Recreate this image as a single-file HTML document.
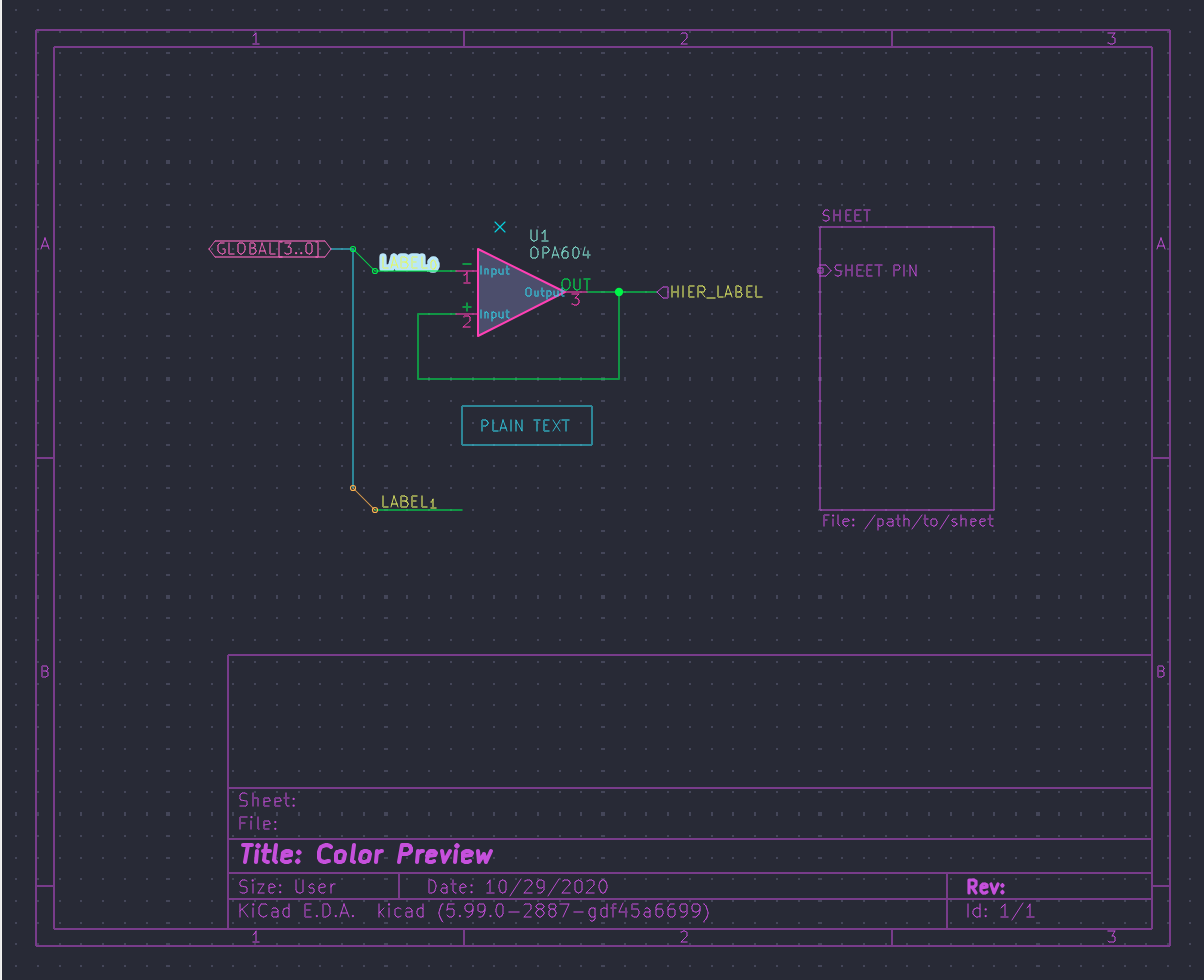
<!DOCTYPE html>
<html><head><meta charset="utf-8"><title>Color Preview</title>
<style>
html,body{margin:0;padding:0;background:#282a36;overflow:hidden;font-family:"Liberation Sans",sans-serif;}
svg{display:block;position:absolute;left:0;top:0}
svg path{stroke-linecap:round;stroke-linejoin:round}
</style></head><body>
<svg width="1204" height="980" viewBox="0 0 1204 980">
<rect x="0" y="0" width="1204" height="980" fill="#282a36"/>
<rect x="0" y="0" width="1" height="980" fill="#ececec"/>
<rect x="1" y="0" width="1" height="980" fill="#f2f2f0"/>
<path d="M15 9h2v2h-2zM37 9h2v2h-2zM59 9h2v2h-2zM80 9h2v2h-2zM102 9h2v2h-2zM124 9h2v2h-2zM146 9h2v2h-2zM166 9h4v2h-4zM189 9h2v2h-2zM211 9h2v2h-2zM232 9h2v2h-2zM254 9h2v2h-2zM276 9h2v2h-2zM298 9h2v2h-2zM319 9h2v2h-2zM341 9h2v2h-2zM363 9h2v2h-2zM384 9h4v2h-4zM406 9h2v2h-2zM428 9h2v2h-2zM450 9h2v2h-2zM472 9h2v2h-2zM493 9h2v2h-2zM515 9h2v2h-2zM537 9h2v2h-2zM559 9h2v2h-2zM580 9h2v2h-2zM601 9h4v2h-4zM624 9h2v2h-2zM645 9h2v2h-2zM667 9h2v2h-2zM689 9h2v2h-2zM711 9h2v2h-2zM732 9h2v2h-2zM754 9h2v2h-2zM776 9h2v2h-2zM798 9h2v2h-2zM818 9h4v2h-4zM841 9h2v2h-2zM863 9h2v2h-2zM885 9h2v2h-2zM906 9h2v2h-2zM928 9h2v2h-2zM950 9h2v2h-2zM972 9h2v2h-2zM993 9h2v2h-2zM1015 9h2v2h-2zM1036 9h4v2h-4zM1058 9h2v2h-2zM1080 9h2v2h-2zM1102 9h2v2h-2zM1124 9h2v2h-2zM1145 9h2v2h-2zM1167 9h2v2h-2zM1189 9h2v2h-2zM15 31h2v2h-2zM37 31h2v2h-2zM59 31h2v2h-2zM80 31h2v2h-2zM102 31h2v2h-2zM124 31h2v2h-2zM146 31h2v2h-2zM166 31h4v2h-4zM189 31h2v2h-2zM211 31h2v2h-2zM232 31h2v2h-2zM254 31h2v2h-2zM276 31h2v2h-2zM298 31h2v2h-2zM319 31h2v2h-2zM341 31h2v2h-2zM363 31h2v2h-2zM384 31h4v2h-4zM406 31h2v2h-2zM428 31h2v2h-2zM450 31h2v2h-2zM472 31h2v2h-2zM493 31h2v2h-2zM515 31h2v2h-2zM537 31h2v2h-2zM559 31h2v2h-2zM580 31h2v2h-2zM601 31h4v2h-4zM624 31h2v2h-2zM645 31h2v2h-2zM667 31h2v2h-2zM689 31h2v2h-2zM711 31h2v2h-2zM732 31h2v2h-2zM754 31h2v2h-2zM776 31h2v2h-2zM798 31h2v2h-2zM818 31h4v2h-4zM841 31h2v2h-2zM863 31h2v2h-2zM885 31h2v2h-2zM906 31h2v2h-2zM928 31h2v2h-2zM950 31h2v2h-2zM972 31h2v2h-2zM993 31h2v2h-2zM1015 31h2v2h-2zM1036 31h4v2h-4zM1058 31h2v2h-2zM1080 31h2v2h-2zM1102 31h2v2h-2zM1124 31h2v2h-2zM1145 31h2v2h-2zM1167 31h2v2h-2zM1189 31h2v2h-2zM15 52h2v2h-2zM37 52h2v2h-2zM59 52h2v2h-2zM80 52h2v2h-2zM102 52h2v2h-2zM124 52h2v2h-2zM146 52h2v2h-2zM166 52h4v2h-4zM189 52h2v2h-2zM211 52h2v2h-2zM232 52h2v2h-2zM254 52h2v2h-2zM276 52h2v2h-2zM298 52h2v2h-2zM319 52h2v2h-2zM341 52h2v2h-2zM363 52h2v2h-2zM384 52h4v2h-4zM406 52h2v2h-2zM428 52h2v2h-2zM450 52h2v2h-2zM472 52h2v2h-2zM493 52h2v2h-2zM515 52h2v2h-2zM537 52h2v2h-2zM559 52h2v2h-2zM580 52h2v2h-2zM601 52h4v2h-4zM624 52h2v2h-2zM645 52h2v2h-2zM667 52h2v2h-2zM689 52h2v2h-2zM711 52h2v2h-2zM732 52h2v2h-2zM754 52h2v2h-2zM776 52h2v2h-2zM798 52h2v2h-2zM818 52h4v2h-4zM841 52h2v2h-2zM863 52h2v2h-2zM885 52h2v2h-2zM906 52h2v2h-2zM928 52h2v2h-2zM950 52h2v2h-2zM972 52h2v2h-2zM993 52h2v2h-2zM1015 52h2v2h-2zM1036 52h4v2h-4zM1058 52h2v2h-2zM1080 52h2v2h-2zM1102 52h2v2h-2zM1124 52h2v2h-2zM1145 52h2v2h-2zM1167 52h2v2h-2zM1189 52h2v2h-2zM15 74h2v2h-2zM37 74h2v2h-2zM59 74h2v2h-2zM80 74h2v2h-2zM102 74h2v2h-2zM124 74h2v2h-2zM146 74h2v2h-2zM166 74h4v2h-4zM189 74h2v2h-2zM211 74h2v2h-2zM232 74h2v2h-2zM254 74h2v2h-2zM276 74h2v2h-2zM298 74h2v2h-2zM319 74h2v2h-2zM341 74h2v2h-2zM363 74h2v2h-2zM384 74h4v2h-4zM406 74h2v2h-2zM428 74h2v2h-2zM450 74h2v2h-2zM472 74h2v2h-2zM493 74h2v2h-2zM515 74h2v2h-2zM537 74h2v2h-2zM559 74h2v2h-2zM580 74h2v2h-2zM601 74h4v2h-4zM624 74h2v2h-2zM645 74h2v2h-2zM667 74h2v2h-2zM689 74h2v2h-2zM711 74h2v2h-2zM732 74h2v2h-2zM754 74h2v2h-2zM776 74h2v2h-2zM798 74h2v2h-2zM818 74h4v2h-4zM841 74h2v2h-2zM863 74h2v2h-2zM885 74h2v2h-2zM906 74h2v2h-2zM928 74h2v2h-2zM950 74h2v2h-2zM972 74h2v2h-2zM993 74h2v2h-2zM1015 74h2v2h-2zM1036 74h4v2h-4zM1058 74h2v2h-2zM1080 74h2v2h-2zM1102 74h2v2h-2zM1124 74h2v2h-2zM1145 74h2v2h-2zM1167 74h2v2h-2zM1189 74h2v2h-2zM15 96h2v2h-2zM37 96h2v2h-2zM59 96h2v2h-2zM80 96h2v2h-2zM102 96h2v2h-2zM124 96h2v2h-2zM146 96h2v2h-2zM166 96h4v2h-4zM189 96h2v2h-2zM211 96h2v2h-2zM232 96h2v2h-2zM254 96h2v2h-2zM276 96h2v2h-2zM298 96h2v2h-2zM319 96h2v2h-2zM341 96h2v2h-2zM363 96h2v2h-2zM384 96h4v2h-4zM406 96h2v2h-2zM428 96h2v2h-2zM450 96h2v2h-2zM472 96h2v2h-2zM493 96h2v2h-2zM515 96h2v2h-2zM537 96h2v2h-2zM559 96h2v2h-2zM580 96h2v2h-2zM601 96h4v2h-4zM624 96h2v2h-2zM645 96h2v2h-2zM667 96h2v2h-2zM689 96h2v2h-2zM711 96h2v2h-2zM732 96h2v2h-2zM754 96h2v2h-2zM776 96h2v2h-2zM798 96h2v2h-2zM818 96h4v2h-4zM841 96h2v2h-2zM863 96h2v2h-2zM885 96h2v2h-2zM906 96h2v2h-2zM928 96h2v2h-2zM950 96h2v2h-2zM972 96h2v2h-2zM993 96h2v2h-2zM1015 96h2v2h-2zM1036 96h4v2h-4zM1058 96h2v2h-2zM1080 96h2v2h-2zM1102 96h2v2h-2zM1124 96h2v2h-2zM1145 96h2v2h-2zM1167 96h2v2h-2zM1189 96h2v2h-2zM15 117h2v2h-2zM37 117h2v2h-2zM59 117h2v2h-2zM80 117h2v2h-2zM102 117h2v2h-2zM124 117h2v2h-2zM146 117h2v2h-2zM166 117h4v2h-4zM189 117h2v2h-2zM211 117h2v2h-2zM232 117h2v2h-2zM254 117h2v2h-2zM276 117h2v2h-2zM298 117h2v2h-2zM319 117h2v2h-2zM341 117h2v2h-2zM363 117h2v2h-2zM384 117h4v2h-4zM406 117h2v2h-2zM428 117h2v2h-2zM450 117h2v2h-2zM472 117h2v2h-2zM493 117h2v2h-2zM515 117h2v2h-2zM537 117h2v2h-2zM559 117h2v2h-2zM580 117h2v2h-2zM601 117h4v2h-4zM624 117h2v2h-2zM645 117h2v2h-2zM667 117h2v2h-2zM689 117h2v2h-2zM711 117h2v2h-2zM732 117h2v2h-2zM754 117h2v2h-2zM776 117h2v2h-2zM798 117h2v2h-2zM818 117h4v2h-4zM841 117h2v2h-2zM863 117h2v2h-2zM885 117h2v2h-2zM906 117h2v2h-2zM928 117h2v2h-2zM950 117h2v2h-2zM972 117h2v2h-2zM993 117h2v2h-2zM1015 117h2v2h-2zM1036 117h4v2h-4zM1058 117h2v2h-2zM1080 117h2v2h-2zM1102 117h2v2h-2zM1124 117h2v2h-2zM1145 117h2v2h-2zM1167 117h2v2h-2zM1189 117h2v2h-2zM15 139h2v2h-2zM37 139h2v2h-2zM59 139h2v2h-2zM80 139h2v2h-2zM102 139h2v2h-2zM124 139h2v2h-2zM146 139h2v2h-2zM166 139h4v2h-4zM189 139h2v2h-2zM211 139h2v2h-2zM232 139h2v2h-2zM254 139h2v2h-2zM276 139h2v2h-2zM298 139h2v2h-2zM319 139h2v2h-2zM341 139h2v2h-2zM363 139h2v2h-2zM384 139h4v2h-4zM406 139h2v2h-2zM428 139h2v2h-2zM450 139h2v2h-2zM472 139h2v2h-2zM493 139h2v2h-2zM515 139h2v2h-2zM537 139h2v2h-2zM559 139h2v2h-2zM580 139h2v2h-2zM601 139h4v2h-4zM624 139h2v2h-2zM645 139h2v2h-2zM667 139h2v2h-2zM689 139h2v2h-2zM711 139h2v2h-2zM732 139h2v2h-2zM754 139h2v2h-2zM776 139h2v2h-2zM798 139h2v2h-2zM818 139h4v2h-4zM841 139h2v2h-2zM863 139h2v2h-2zM885 139h2v2h-2zM906 139h2v2h-2zM928 139h2v2h-2zM950 139h2v2h-2zM972 139h2v2h-2zM993 139h2v2h-2zM1015 139h2v2h-2zM1036 139h4v2h-4zM1058 139h2v2h-2zM1080 139h2v2h-2zM1102 139h2v2h-2zM1124 139h2v2h-2zM1145 139h2v2h-2zM1167 139h2v2h-2zM1189 139h2v2h-2zM15 160h2v4h-2zM37 160h2v4h-2zM59 160h2v4h-2zM80 160h2v4h-2zM102 160h2v4h-2zM124 160h2v4h-2zM146 160h2v4h-2zM166 160h4v4h-4zM189 160h2v4h-2zM211 160h2v4h-2zM232 160h2v4h-2zM254 160h2v4h-2zM276 160h2v4h-2zM298 160h2v4h-2zM319 160h2v4h-2zM341 160h2v4h-2zM363 160h2v4h-2zM384 160h4v4h-4zM406 160h2v4h-2zM428 160h2v4h-2zM450 160h2v4h-2zM472 160h2v4h-2zM493 160h2v4h-2zM515 160h2v4h-2zM537 160h2v4h-2zM559 160h2v4h-2zM580 160h2v4h-2zM601 160h4v4h-4zM624 160h2v4h-2zM645 160h2v4h-2zM667 160h2v4h-2zM689 160h2v4h-2zM711 160h2v4h-2zM732 160h2v4h-2zM754 160h2v4h-2zM776 160h2v4h-2zM798 160h2v4h-2zM818 160h4v4h-4zM841 160h2v4h-2zM863 160h2v4h-2zM885 160h2v4h-2zM906 160h2v4h-2zM928 160h2v4h-2zM950 160h2v4h-2zM972 160h2v4h-2zM993 160h2v4h-2zM1015 160h2v4h-2zM1036 160h4v4h-4zM1058 160h2v4h-2zM1080 160h2v4h-2zM1102 160h2v4h-2zM1124 160h2v4h-2zM1145 160h2v4h-2zM1167 160h2v4h-2zM1189 160h2v4h-2zM15 183h2v2h-2zM37 183h2v2h-2zM59 183h2v2h-2zM80 183h2v2h-2zM102 183h2v2h-2zM124 183h2v2h-2zM146 183h2v2h-2zM166 183h4v2h-4zM189 183h2v2h-2zM211 183h2v2h-2zM232 183h2v2h-2zM254 183h2v2h-2zM276 183h2v2h-2zM298 183h2v2h-2zM319 183h2v2h-2zM341 183h2v2h-2zM363 183h2v2h-2zM384 183h4v2h-4zM406 183h2v2h-2zM428 183h2v2h-2zM450 183h2v2h-2zM472 183h2v2h-2zM493 183h2v2h-2zM515 183h2v2h-2zM537 183h2v2h-2zM559 183h2v2h-2zM580 183h2v2h-2zM601 183h4v2h-4zM624 183h2v2h-2zM645 183h2v2h-2zM667 183h2v2h-2zM689 183h2v2h-2zM711 183h2v2h-2zM732 183h2v2h-2zM754 183h2v2h-2zM776 183h2v2h-2zM798 183h2v2h-2zM818 183h4v2h-4zM841 183h2v2h-2zM863 183h2v2h-2zM885 183h2v2h-2zM906 183h2v2h-2zM928 183h2v2h-2zM950 183h2v2h-2zM972 183h2v2h-2zM993 183h2v2h-2zM1015 183h2v2h-2zM1036 183h4v2h-4zM1058 183h2v2h-2zM1080 183h2v2h-2zM1102 183h2v2h-2zM1124 183h2v2h-2zM1145 183h2v2h-2zM1167 183h2v2h-2zM1189 183h2v2h-2zM15 204h2v2h-2zM37 204h2v2h-2zM59 204h2v2h-2zM80 204h2v2h-2zM102 204h2v2h-2zM124 204h2v2h-2zM146 204h2v2h-2zM166 204h4v2h-4zM189 204h2v2h-2zM211 204h2v2h-2zM232 204h2v2h-2zM254 204h2v2h-2zM276 204h2v2h-2zM298 204h2v2h-2zM319 204h2v2h-2zM341 204h2v2h-2zM363 204h2v2h-2zM384 204h4v2h-4zM406 204h2v2h-2zM428 204h2v2h-2zM450 204h2v2h-2zM472 204h2v2h-2zM493 204h2v2h-2zM515 204h2v2h-2zM537 204h2v2h-2zM559 204h2v2h-2zM580 204h2v2h-2zM601 204h4v2h-4zM624 204h2v2h-2zM645 204h2v2h-2zM667 204h2v2h-2zM689 204h2v2h-2zM711 204h2v2h-2zM732 204h2v2h-2zM754 204h2v2h-2zM776 204h2v2h-2zM798 204h2v2h-2zM818 204h4v2h-4zM841 204h2v2h-2zM863 204h2v2h-2zM885 204h2v2h-2zM906 204h2v2h-2zM928 204h2v2h-2zM950 204h2v2h-2zM972 204h2v2h-2zM993 204h2v2h-2zM1015 204h2v2h-2zM1036 204h4v2h-4zM1058 204h2v2h-2zM1080 204h2v2h-2zM1102 204h2v2h-2zM1124 204h2v2h-2zM1145 204h2v2h-2zM1167 204h2v2h-2zM1189 204h2v2h-2zM15 226h2v2h-2zM37 226h2v2h-2zM59 226h2v2h-2zM80 226h2v2h-2zM102 226h2v2h-2zM124 226h2v2h-2zM146 226h2v2h-2zM166 226h4v2h-4zM189 226h2v2h-2zM211 226h2v2h-2zM232 226h2v2h-2zM254 226h2v2h-2zM276 226h2v2h-2zM298 226h2v2h-2zM319 226h2v2h-2zM341 226h2v2h-2zM363 226h2v2h-2zM384 226h4v2h-4zM406 226h2v2h-2zM428 226h2v2h-2zM450 226h2v2h-2zM472 226h2v2h-2zM493 226h2v2h-2zM515 226h2v2h-2zM537 226h2v2h-2zM559 226h2v2h-2zM580 226h2v2h-2zM601 226h4v2h-4zM624 226h2v2h-2zM645 226h2v2h-2zM667 226h2v2h-2zM689 226h2v2h-2zM711 226h2v2h-2zM732 226h2v2h-2zM754 226h2v2h-2zM776 226h2v2h-2zM798 226h2v2h-2zM818 226h4v2h-4zM841 226h2v2h-2zM863 226h2v2h-2zM885 226h2v2h-2zM906 226h2v2h-2zM928 226h2v2h-2zM950 226h2v2h-2zM972 226h2v2h-2zM993 226h2v2h-2zM1015 226h2v2h-2zM1036 226h4v2h-4zM1058 226h2v2h-2zM1080 226h2v2h-2zM1102 226h2v2h-2zM1124 226h2v2h-2zM1145 226h2v2h-2zM1167 226h2v2h-2zM1189 226h2v2h-2zM15 248h2v2h-2zM37 248h2v2h-2zM59 248h2v2h-2zM80 248h2v2h-2zM102 248h2v2h-2zM124 248h2v2h-2zM146 248h2v2h-2zM166 248h4v2h-4zM189 248h2v2h-2zM211 248h2v2h-2zM232 248h2v2h-2zM254 248h2v2h-2zM276 248h2v2h-2zM298 248h2v2h-2zM319 248h2v2h-2zM341 248h2v2h-2zM363 248h2v2h-2zM384 248h4v2h-4zM406 248h2v2h-2zM428 248h2v2h-2zM450 248h2v2h-2zM472 248h2v2h-2zM493 248h2v2h-2zM515 248h2v2h-2zM537 248h2v2h-2zM559 248h2v2h-2zM580 248h2v2h-2zM601 248h4v2h-4zM624 248h2v2h-2zM645 248h2v2h-2zM667 248h2v2h-2zM689 248h2v2h-2zM711 248h2v2h-2zM732 248h2v2h-2zM754 248h2v2h-2zM776 248h2v2h-2zM798 248h2v2h-2zM818 248h4v2h-4zM841 248h2v2h-2zM863 248h2v2h-2zM885 248h2v2h-2zM906 248h2v2h-2zM928 248h2v2h-2zM950 248h2v2h-2zM972 248h2v2h-2zM993 248h2v2h-2zM1015 248h2v2h-2zM1036 248h4v2h-4zM1058 248h2v2h-2zM1080 248h2v2h-2zM1102 248h2v2h-2zM1124 248h2v2h-2zM1145 248h2v2h-2zM1167 248h2v2h-2zM1189 248h2v2h-2zM15 270h2v2h-2zM37 270h2v2h-2zM59 270h2v2h-2zM80 270h2v2h-2zM102 270h2v2h-2zM124 270h2v2h-2zM146 270h2v2h-2zM166 270h4v2h-4zM189 270h2v2h-2zM211 270h2v2h-2zM232 270h2v2h-2zM254 270h2v2h-2zM276 270h2v2h-2zM298 270h2v2h-2zM319 270h2v2h-2zM341 270h2v2h-2zM363 270h2v2h-2zM384 270h4v2h-4zM406 270h2v2h-2zM428 270h2v2h-2zM450 270h2v2h-2zM472 270h2v2h-2zM493 270h2v2h-2zM515 270h2v2h-2zM537 270h2v2h-2zM559 270h2v2h-2zM580 270h2v2h-2zM601 270h4v2h-4zM624 270h2v2h-2zM645 270h2v2h-2zM667 270h2v2h-2zM689 270h2v2h-2zM711 270h2v2h-2zM732 270h2v2h-2zM754 270h2v2h-2zM776 270h2v2h-2zM798 270h2v2h-2zM818 270h4v2h-4zM841 270h2v2h-2zM863 270h2v2h-2zM885 270h2v2h-2zM906 270h2v2h-2zM928 270h2v2h-2zM950 270h2v2h-2zM972 270h2v2h-2zM993 270h2v2h-2zM1015 270h2v2h-2zM1036 270h4v2h-4zM1058 270h2v2h-2zM1080 270h2v2h-2zM1102 270h2v2h-2zM1124 270h2v2h-2zM1145 270h2v2h-2zM1167 270h2v2h-2zM1189 270h2v2h-2zM15 291h2v2h-2zM37 291h2v2h-2zM59 291h2v2h-2zM80 291h2v2h-2zM102 291h2v2h-2zM124 291h2v2h-2zM146 291h2v2h-2zM166 291h4v2h-4zM189 291h2v2h-2zM211 291h2v2h-2zM232 291h2v2h-2zM254 291h2v2h-2zM276 291h2v2h-2zM298 291h2v2h-2zM319 291h2v2h-2zM341 291h2v2h-2zM363 291h2v2h-2zM384 291h4v2h-4zM406 291h2v2h-2zM428 291h2v2h-2zM450 291h2v2h-2zM472 291h2v2h-2zM493 291h2v2h-2zM515 291h2v2h-2zM537 291h2v2h-2zM559 291h2v2h-2zM580 291h2v2h-2zM601 291h4v2h-4zM624 291h2v2h-2zM645 291h2v2h-2zM667 291h2v2h-2zM689 291h2v2h-2zM711 291h2v2h-2zM732 291h2v2h-2zM754 291h2v2h-2zM776 291h2v2h-2zM798 291h2v2h-2zM818 291h4v2h-4zM841 291h2v2h-2zM863 291h2v2h-2zM885 291h2v2h-2zM906 291h2v2h-2zM928 291h2v2h-2zM950 291h2v2h-2zM972 291h2v2h-2zM993 291h2v2h-2zM1015 291h2v2h-2zM1036 291h4v2h-4zM1058 291h2v2h-2zM1080 291h2v2h-2zM1102 291h2v2h-2zM1124 291h2v2h-2zM1145 291h2v2h-2zM1167 291h2v2h-2zM1189 291h2v2h-2zM15 313h2v2h-2zM37 313h2v2h-2zM59 313h2v2h-2zM80 313h2v2h-2zM102 313h2v2h-2zM124 313h2v2h-2zM146 313h2v2h-2zM166 313h4v2h-4zM189 313h2v2h-2zM211 313h2v2h-2zM232 313h2v2h-2zM254 313h2v2h-2zM276 313h2v2h-2zM298 313h2v2h-2zM319 313h2v2h-2zM341 313h2v2h-2zM363 313h2v2h-2zM384 313h4v2h-4zM406 313h2v2h-2zM428 313h2v2h-2zM450 313h2v2h-2zM472 313h2v2h-2zM493 313h2v2h-2zM515 313h2v2h-2zM537 313h2v2h-2zM559 313h2v2h-2zM580 313h2v2h-2zM601 313h4v2h-4zM624 313h2v2h-2zM645 313h2v2h-2zM667 313h2v2h-2zM689 313h2v2h-2zM711 313h2v2h-2zM732 313h2v2h-2zM754 313h2v2h-2zM776 313h2v2h-2zM798 313h2v2h-2zM818 313h4v2h-4zM841 313h2v2h-2zM863 313h2v2h-2zM885 313h2v2h-2zM906 313h2v2h-2zM928 313h2v2h-2zM950 313h2v2h-2zM972 313h2v2h-2zM993 313h2v2h-2zM1015 313h2v2h-2zM1036 313h4v2h-4zM1058 313h2v2h-2zM1080 313h2v2h-2zM1102 313h2v2h-2zM1124 313h2v2h-2zM1145 313h2v2h-2zM1167 313h2v2h-2zM1189 313h2v2h-2zM15 335h2v2h-2zM37 335h2v2h-2zM59 335h2v2h-2zM80 335h2v2h-2zM102 335h2v2h-2zM124 335h2v2h-2zM146 335h2v2h-2zM166 335h4v2h-4zM189 335h2v2h-2zM211 335h2v2h-2zM232 335h2v2h-2zM254 335h2v2h-2zM276 335h2v2h-2zM298 335h2v2h-2zM319 335h2v2h-2zM341 335h2v2h-2zM363 335h2v2h-2zM384 335h4v2h-4zM406 335h2v2h-2zM428 335h2v2h-2zM450 335h2v2h-2zM472 335h2v2h-2zM493 335h2v2h-2zM515 335h2v2h-2zM537 335h2v2h-2zM559 335h2v2h-2zM580 335h2v2h-2zM601 335h4v2h-4zM624 335h2v2h-2zM645 335h2v2h-2zM667 335h2v2h-2zM689 335h2v2h-2zM711 335h2v2h-2zM732 335h2v2h-2zM754 335h2v2h-2zM776 335h2v2h-2zM798 335h2v2h-2zM818 335h4v2h-4zM841 335h2v2h-2zM863 335h2v2h-2zM885 335h2v2h-2zM906 335h2v2h-2zM928 335h2v2h-2zM950 335h2v2h-2zM972 335h2v2h-2zM993 335h2v2h-2zM1015 335h2v2h-2zM1036 335h4v2h-4zM1058 335h2v2h-2zM1080 335h2v2h-2zM1102 335h2v2h-2zM1124 335h2v2h-2zM1145 335h2v2h-2zM1167 335h2v2h-2zM1189 335h2v2h-2zM15 357h2v2h-2zM37 357h2v2h-2zM59 357h2v2h-2zM80 357h2v2h-2zM102 357h2v2h-2zM124 357h2v2h-2zM146 357h2v2h-2zM166 357h4v2h-4zM189 357h2v2h-2zM211 357h2v2h-2zM232 357h2v2h-2zM254 357h2v2h-2zM276 357h2v2h-2zM298 357h2v2h-2zM319 357h2v2h-2zM341 357h2v2h-2zM363 357h2v2h-2zM384 357h4v2h-4zM406 357h2v2h-2zM428 357h2v2h-2zM450 357h2v2h-2zM472 357h2v2h-2zM493 357h2v2h-2zM515 357h2v2h-2zM537 357h2v2h-2zM559 357h2v2h-2zM580 357h2v2h-2zM601 357h4v2h-4zM624 357h2v2h-2zM645 357h2v2h-2zM667 357h2v2h-2zM689 357h2v2h-2zM711 357h2v2h-2zM732 357h2v2h-2zM754 357h2v2h-2zM776 357h2v2h-2zM798 357h2v2h-2zM818 357h4v2h-4zM841 357h2v2h-2zM863 357h2v2h-2zM885 357h2v2h-2zM906 357h2v2h-2zM928 357h2v2h-2zM950 357h2v2h-2zM972 357h2v2h-2zM993 357h2v2h-2zM1015 357h2v2h-2zM1036 357h4v2h-4zM1058 357h2v2h-2zM1080 357h2v2h-2zM1102 357h2v2h-2zM1124 357h2v2h-2zM1145 357h2v2h-2zM1167 357h2v2h-2zM1189 357h2v2h-2zM15 377h2v4h-2zM37 377h2v4h-2zM59 377h2v4h-2zM80 377h2v4h-2zM102 377h2v4h-2zM124 377h2v4h-2zM146 377h2v4h-2zM166 377h4v4h-4zM189 377h2v4h-2zM211 377h2v4h-2zM232 377h2v4h-2zM254 377h2v4h-2zM276 377h2v4h-2zM298 377h2v4h-2zM319 377h2v4h-2zM341 377h2v4h-2zM363 377h2v4h-2zM384 377h4v4h-4zM406 377h2v4h-2zM428 377h2v4h-2zM450 377h2v4h-2zM472 377h2v4h-2zM493 377h2v4h-2zM515 377h2v4h-2zM537 377h2v4h-2zM559 377h2v4h-2zM580 377h2v4h-2zM601 377h4v4h-4zM624 377h2v4h-2zM645 377h2v4h-2zM667 377h2v4h-2zM689 377h2v4h-2zM711 377h2v4h-2zM732 377h2v4h-2zM754 377h2v4h-2zM776 377h2v4h-2zM798 377h2v4h-2zM818 377h4v4h-4zM841 377h2v4h-2zM863 377h2v4h-2zM885 377h2v4h-2zM906 377h2v4h-2zM928 377h2v4h-2zM950 377h2v4h-2zM972 377h2v4h-2zM993 377h2v4h-2zM1015 377h2v4h-2zM1036 377h4v4h-4zM1058 377h2v4h-2zM1080 377h2v4h-2zM1102 377h2v4h-2zM1124 377h2v4h-2zM1145 377h2v4h-2zM1167 377h2v4h-2zM1189 377h2v4h-2zM15 400h2v2h-2zM37 400h2v2h-2zM59 400h2v2h-2zM80 400h2v2h-2zM102 400h2v2h-2zM124 400h2v2h-2zM146 400h2v2h-2zM166 400h4v2h-4zM189 400h2v2h-2zM211 400h2v2h-2zM232 400h2v2h-2zM254 400h2v2h-2zM276 400h2v2h-2zM298 400h2v2h-2zM319 400h2v2h-2zM341 400h2v2h-2zM363 400h2v2h-2zM384 400h4v2h-4zM406 400h2v2h-2zM428 400h2v2h-2zM450 400h2v2h-2zM472 400h2v2h-2zM493 400h2v2h-2zM515 400h2v2h-2zM537 400h2v2h-2zM559 400h2v2h-2zM580 400h2v2h-2zM601 400h4v2h-4zM624 400h2v2h-2zM645 400h2v2h-2zM667 400h2v2h-2zM689 400h2v2h-2zM711 400h2v2h-2zM732 400h2v2h-2zM754 400h2v2h-2zM776 400h2v2h-2zM798 400h2v2h-2zM818 400h4v2h-4zM841 400h2v2h-2zM863 400h2v2h-2zM885 400h2v2h-2zM906 400h2v2h-2zM928 400h2v2h-2zM950 400h2v2h-2zM972 400h2v2h-2zM993 400h2v2h-2zM1015 400h2v2h-2zM1036 400h4v2h-4zM1058 400h2v2h-2zM1080 400h2v2h-2zM1102 400h2v2h-2zM1124 400h2v2h-2zM1145 400h2v2h-2zM1167 400h2v2h-2zM1189 400h2v2h-2zM15 422h2v2h-2zM37 422h2v2h-2zM59 422h2v2h-2zM80 422h2v2h-2zM102 422h2v2h-2zM124 422h2v2h-2zM146 422h2v2h-2zM166 422h4v2h-4zM189 422h2v2h-2zM211 422h2v2h-2zM232 422h2v2h-2zM254 422h2v2h-2zM276 422h2v2h-2zM298 422h2v2h-2zM319 422h2v2h-2zM341 422h2v2h-2zM363 422h2v2h-2zM384 422h4v2h-4zM406 422h2v2h-2zM428 422h2v2h-2zM450 422h2v2h-2zM472 422h2v2h-2zM493 422h2v2h-2zM515 422h2v2h-2zM537 422h2v2h-2zM559 422h2v2h-2zM580 422h2v2h-2zM601 422h4v2h-4zM624 422h2v2h-2zM645 422h2v2h-2zM667 422h2v2h-2zM689 422h2v2h-2zM711 422h2v2h-2zM732 422h2v2h-2zM754 422h2v2h-2zM776 422h2v2h-2zM798 422h2v2h-2zM818 422h4v2h-4zM841 422h2v2h-2zM863 422h2v2h-2zM885 422h2v2h-2zM906 422h2v2h-2zM928 422h2v2h-2zM950 422h2v2h-2zM972 422h2v2h-2zM993 422h2v2h-2zM1015 422h2v2h-2zM1036 422h4v2h-4zM1058 422h2v2h-2zM1080 422h2v2h-2zM1102 422h2v2h-2zM1124 422h2v2h-2zM1145 422h2v2h-2zM1167 422h2v2h-2zM1189 422h2v2h-2zM15 444h2v2h-2zM37 444h2v2h-2zM59 444h2v2h-2zM80 444h2v2h-2zM102 444h2v2h-2zM124 444h2v2h-2zM146 444h2v2h-2zM166 444h4v2h-4zM189 444h2v2h-2zM211 444h2v2h-2zM232 444h2v2h-2zM254 444h2v2h-2zM276 444h2v2h-2zM298 444h2v2h-2zM319 444h2v2h-2zM341 444h2v2h-2zM363 444h2v2h-2zM384 444h4v2h-4zM406 444h2v2h-2zM428 444h2v2h-2zM450 444h2v2h-2zM472 444h2v2h-2zM493 444h2v2h-2zM515 444h2v2h-2zM537 444h2v2h-2zM559 444h2v2h-2zM580 444h2v2h-2zM601 444h4v2h-4zM624 444h2v2h-2zM645 444h2v2h-2zM667 444h2v2h-2zM689 444h2v2h-2zM711 444h2v2h-2zM732 444h2v2h-2zM754 444h2v2h-2zM776 444h2v2h-2zM798 444h2v2h-2zM818 444h4v2h-4zM841 444h2v2h-2zM863 444h2v2h-2zM885 444h2v2h-2zM906 444h2v2h-2zM928 444h2v2h-2zM950 444h2v2h-2zM972 444h2v2h-2zM993 444h2v2h-2zM1015 444h2v2h-2zM1036 444h4v2h-4zM1058 444h2v2h-2zM1080 444h2v2h-2zM1102 444h2v2h-2zM1124 444h2v2h-2zM1145 444h2v2h-2zM1167 444h2v2h-2zM1189 444h2v2h-2zM15 465h2v2h-2zM37 465h2v2h-2zM59 465h2v2h-2zM80 465h2v2h-2zM102 465h2v2h-2zM124 465h2v2h-2zM146 465h2v2h-2zM166 465h4v2h-4zM189 465h2v2h-2zM211 465h2v2h-2zM232 465h2v2h-2zM254 465h2v2h-2zM276 465h2v2h-2zM298 465h2v2h-2zM319 465h2v2h-2zM341 465h2v2h-2zM363 465h2v2h-2zM384 465h4v2h-4zM406 465h2v2h-2zM428 465h2v2h-2zM450 465h2v2h-2zM472 465h2v2h-2zM493 465h2v2h-2zM515 465h2v2h-2zM537 465h2v2h-2zM559 465h2v2h-2zM580 465h2v2h-2zM601 465h4v2h-4zM624 465h2v2h-2zM645 465h2v2h-2zM667 465h2v2h-2zM689 465h2v2h-2zM711 465h2v2h-2zM732 465h2v2h-2zM754 465h2v2h-2zM776 465h2v2h-2zM798 465h2v2h-2zM818 465h4v2h-4zM841 465h2v2h-2zM863 465h2v2h-2zM885 465h2v2h-2zM906 465h2v2h-2zM928 465h2v2h-2zM950 465h2v2h-2zM972 465h2v2h-2zM993 465h2v2h-2zM1015 465h2v2h-2zM1036 465h4v2h-4zM1058 465h2v2h-2zM1080 465h2v2h-2zM1102 465h2v2h-2zM1124 465h2v2h-2zM1145 465h2v2h-2zM1167 465h2v2h-2zM1189 465h2v2h-2zM15 487h2v2h-2zM37 487h2v2h-2zM59 487h2v2h-2zM80 487h2v2h-2zM102 487h2v2h-2zM124 487h2v2h-2zM146 487h2v2h-2zM166 487h4v2h-4zM189 487h2v2h-2zM211 487h2v2h-2zM232 487h2v2h-2zM254 487h2v2h-2zM276 487h2v2h-2zM298 487h2v2h-2zM319 487h2v2h-2zM341 487h2v2h-2zM363 487h2v2h-2zM384 487h4v2h-4zM406 487h2v2h-2zM428 487h2v2h-2zM450 487h2v2h-2zM472 487h2v2h-2zM493 487h2v2h-2zM515 487h2v2h-2zM537 487h2v2h-2zM559 487h2v2h-2zM580 487h2v2h-2zM601 487h4v2h-4zM624 487h2v2h-2zM645 487h2v2h-2zM667 487h2v2h-2zM689 487h2v2h-2zM711 487h2v2h-2zM732 487h2v2h-2zM754 487h2v2h-2zM776 487h2v2h-2zM798 487h2v2h-2zM818 487h4v2h-4zM841 487h2v2h-2zM863 487h2v2h-2zM885 487h2v2h-2zM906 487h2v2h-2zM928 487h2v2h-2zM950 487h2v2h-2zM972 487h2v2h-2zM993 487h2v2h-2zM1015 487h2v2h-2zM1036 487h4v2h-4zM1058 487h2v2h-2zM1080 487h2v2h-2zM1102 487h2v2h-2zM1124 487h2v2h-2zM1145 487h2v2h-2zM1167 487h2v2h-2zM1189 487h2v2h-2zM15 509h2v2h-2zM37 509h2v2h-2zM59 509h2v2h-2zM80 509h2v2h-2zM102 509h2v2h-2zM124 509h2v2h-2zM146 509h2v2h-2zM166 509h4v2h-4zM189 509h2v2h-2zM211 509h2v2h-2zM232 509h2v2h-2zM254 509h2v2h-2zM276 509h2v2h-2zM298 509h2v2h-2zM319 509h2v2h-2zM341 509h2v2h-2zM363 509h2v2h-2zM384 509h4v2h-4zM406 509h2v2h-2zM428 509h2v2h-2zM450 509h2v2h-2zM472 509h2v2h-2zM493 509h2v2h-2zM515 509h2v2h-2zM537 509h2v2h-2zM559 509h2v2h-2zM580 509h2v2h-2zM601 509h4v2h-4zM624 509h2v2h-2zM645 509h2v2h-2zM667 509h2v2h-2zM689 509h2v2h-2zM711 509h2v2h-2zM732 509h2v2h-2zM754 509h2v2h-2zM776 509h2v2h-2zM798 509h2v2h-2zM818 509h4v2h-4zM841 509h2v2h-2zM863 509h2v2h-2zM885 509h2v2h-2zM906 509h2v2h-2zM928 509h2v2h-2zM950 509h2v2h-2zM972 509h2v2h-2zM993 509h2v2h-2zM1015 509h2v2h-2zM1036 509h4v2h-4zM1058 509h2v2h-2zM1080 509h2v2h-2zM1102 509h2v2h-2zM1124 509h2v2h-2zM1145 509h2v2h-2zM1167 509h2v2h-2zM1189 509h2v2h-2zM15 530h2v2h-2zM37 530h2v2h-2zM59 530h2v2h-2zM80 530h2v2h-2zM102 530h2v2h-2zM124 530h2v2h-2zM146 530h2v2h-2zM166 530h4v2h-4zM189 530h2v2h-2zM211 530h2v2h-2zM232 530h2v2h-2zM254 530h2v2h-2zM276 530h2v2h-2zM298 530h2v2h-2zM319 530h2v2h-2zM341 530h2v2h-2zM363 530h2v2h-2zM384 530h4v2h-4zM406 530h2v2h-2zM428 530h2v2h-2zM450 530h2v2h-2zM472 530h2v2h-2zM493 530h2v2h-2zM515 530h2v2h-2zM537 530h2v2h-2zM559 530h2v2h-2zM580 530h2v2h-2zM601 530h4v2h-4zM624 530h2v2h-2zM645 530h2v2h-2zM667 530h2v2h-2zM689 530h2v2h-2zM711 530h2v2h-2zM732 530h2v2h-2zM754 530h2v2h-2zM776 530h2v2h-2zM798 530h2v2h-2zM818 530h4v2h-4zM841 530h2v2h-2zM863 530h2v2h-2zM885 530h2v2h-2zM906 530h2v2h-2zM928 530h2v2h-2zM950 530h2v2h-2zM972 530h2v2h-2zM993 530h2v2h-2zM1015 530h2v2h-2zM1036 530h4v2h-4zM1058 530h2v2h-2zM1080 530h2v2h-2zM1102 530h2v2h-2zM1124 530h2v2h-2zM1145 530h2v2h-2zM1167 530h2v2h-2zM1189 530h2v2h-2zM15 552h2v2h-2zM37 552h2v2h-2zM59 552h2v2h-2zM80 552h2v2h-2zM102 552h2v2h-2zM124 552h2v2h-2zM146 552h2v2h-2zM166 552h4v2h-4zM189 552h2v2h-2zM211 552h2v2h-2zM232 552h2v2h-2zM254 552h2v2h-2zM276 552h2v2h-2zM298 552h2v2h-2zM319 552h2v2h-2zM341 552h2v2h-2zM363 552h2v2h-2zM384 552h4v2h-4zM406 552h2v2h-2zM428 552h2v2h-2zM450 552h2v2h-2zM472 552h2v2h-2zM493 552h2v2h-2zM515 552h2v2h-2zM537 552h2v2h-2zM559 552h2v2h-2zM580 552h2v2h-2zM601 552h4v2h-4zM624 552h2v2h-2zM645 552h2v2h-2zM667 552h2v2h-2zM689 552h2v2h-2zM711 552h2v2h-2zM732 552h2v2h-2zM754 552h2v2h-2zM776 552h2v2h-2zM798 552h2v2h-2zM818 552h4v2h-4zM841 552h2v2h-2zM863 552h2v2h-2zM885 552h2v2h-2zM906 552h2v2h-2zM928 552h2v2h-2zM950 552h2v2h-2zM972 552h2v2h-2zM993 552h2v2h-2zM1015 552h2v2h-2zM1036 552h4v2h-4zM1058 552h2v2h-2zM1080 552h2v2h-2zM1102 552h2v2h-2zM1124 552h2v2h-2zM1145 552h2v2h-2zM1167 552h2v2h-2zM1189 552h2v2h-2zM15 574h2v2h-2zM37 574h2v2h-2zM59 574h2v2h-2zM80 574h2v2h-2zM102 574h2v2h-2zM124 574h2v2h-2zM146 574h2v2h-2zM166 574h4v2h-4zM189 574h2v2h-2zM211 574h2v2h-2zM232 574h2v2h-2zM254 574h2v2h-2zM276 574h2v2h-2zM298 574h2v2h-2zM319 574h2v2h-2zM341 574h2v2h-2zM363 574h2v2h-2zM384 574h4v2h-4zM406 574h2v2h-2zM428 574h2v2h-2zM450 574h2v2h-2zM472 574h2v2h-2zM493 574h2v2h-2zM515 574h2v2h-2zM537 574h2v2h-2zM559 574h2v2h-2zM580 574h2v2h-2zM601 574h4v2h-4zM624 574h2v2h-2zM645 574h2v2h-2zM667 574h2v2h-2zM689 574h2v2h-2zM711 574h2v2h-2zM732 574h2v2h-2zM754 574h2v2h-2zM776 574h2v2h-2zM798 574h2v2h-2zM818 574h4v2h-4zM841 574h2v2h-2zM863 574h2v2h-2zM885 574h2v2h-2zM906 574h2v2h-2zM928 574h2v2h-2zM950 574h2v2h-2zM972 574h2v2h-2zM993 574h2v2h-2zM1015 574h2v2h-2zM1036 574h4v2h-4zM1058 574h2v2h-2zM1080 574h2v2h-2zM1102 574h2v2h-2zM1124 574h2v2h-2zM1145 574h2v2h-2zM1167 574h2v2h-2zM1189 574h2v2h-2zM15 595h2v4h-2zM37 595h2v4h-2zM59 595h2v4h-2zM80 595h2v4h-2zM102 595h2v4h-2zM124 595h2v4h-2zM146 595h2v4h-2zM166 595h4v4h-4zM189 595h2v4h-2zM211 595h2v4h-2zM232 595h2v4h-2zM254 595h2v4h-2zM276 595h2v4h-2zM298 595h2v4h-2zM319 595h2v4h-2zM341 595h2v4h-2zM363 595h2v4h-2zM384 595h4v4h-4zM406 595h2v4h-2zM428 595h2v4h-2zM450 595h2v4h-2zM472 595h2v4h-2zM493 595h2v4h-2zM515 595h2v4h-2zM537 595h2v4h-2zM559 595h2v4h-2zM580 595h2v4h-2zM601 595h4v4h-4zM624 595h2v4h-2zM645 595h2v4h-2zM667 595h2v4h-2zM689 595h2v4h-2zM711 595h2v4h-2zM732 595h2v4h-2zM754 595h2v4h-2zM776 595h2v4h-2zM798 595h2v4h-2zM818 595h4v4h-4zM841 595h2v4h-2zM863 595h2v4h-2zM885 595h2v4h-2zM906 595h2v4h-2zM928 595h2v4h-2zM950 595h2v4h-2zM972 595h2v4h-2zM993 595h2v4h-2zM1015 595h2v4h-2zM1036 595h4v4h-4zM1058 595h2v4h-2zM1080 595h2v4h-2zM1102 595h2v4h-2zM1124 595h2v4h-2zM1145 595h2v4h-2zM1167 595h2v4h-2zM1189 595h2v4h-2zM15 617h2v2h-2zM37 617h2v2h-2zM59 617h2v2h-2zM80 617h2v2h-2zM102 617h2v2h-2zM124 617h2v2h-2zM146 617h2v2h-2zM166 617h4v2h-4zM189 617h2v2h-2zM211 617h2v2h-2zM232 617h2v2h-2zM254 617h2v2h-2zM276 617h2v2h-2zM298 617h2v2h-2zM319 617h2v2h-2zM341 617h2v2h-2zM363 617h2v2h-2zM384 617h4v2h-4zM406 617h2v2h-2zM428 617h2v2h-2zM450 617h2v2h-2zM472 617h2v2h-2zM493 617h2v2h-2zM515 617h2v2h-2zM537 617h2v2h-2zM559 617h2v2h-2zM580 617h2v2h-2zM601 617h4v2h-4zM624 617h2v2h-2zM645 617h2v2h-2zM667 617h2v2h-2zM689 617h2v2h-2zM711 617h2v2h-2zM732 617h2v2h-2zM754 617h2v2h-2zM776 617h2v2h-2zM798 617h2v2h-2zM818 617h4v2h-4zM841 617h2v2h-2zM863 617h2v2h-2zM885 617h2v2h-2zM906 617h2v2h-2zM928 617h2v2h-2zM950 617h2v2h-2zM972 617h2v2h-2zM993 617h2v2h-2zM1015 617h2v2h-2zM1036 617h4v2h-4zM1058 617h2v2h-2zM1080 617h2v2h-2zM1102 617h2v2h-2zM1124 617h2v2h-2zM1145 617h2v2h-2zM1167 617h2v2h-2zM1189 617h2v2h-2zM15 639h2v2h-2zM37 639h2v2h-2zM59 639h2v2h-2zM80 639h2v2h-2zM102 639h2v2h-2zM124 639h2v2h-2zM146 639h2v2h-2zM166 639h4v2h-4zM189 639h2v2h-2zM211 639h2v2h-2zM232 639h2v2h-2zM254 639h2v2h-2zM276 639h2v2h-2zM298 639h2v2h-2zM319 639h2v2h-2zM341 639h2v2h-2zM363 639h2v2h-2zM384 639h4v2h-4zM406 639h2v2h-2zM428 639h2v2h-2zM450 639h2v2h-2zM472 639h2v2h-2zM493 639h2v2h-2zM515 639h2v2h-2zM537 639h2v2h-2zM559 639h2v2h-2zM580 639h2v2h-2zM601 639h4v2h-4zM624 639h2v2h-2zM645 639h2v2h-2zM667 639h2v2h-2zM689 639h2v2h-2zM711 639h2v2h-2zM732 639h2v2h-2zM754 639h2v2h-2zM776 639h2v2h-2zM798 639h2v2h-2zM818 639h4v2h-4zM841 639h2v2h-2zM863 639h2v2h-2zM885 639h2v2h-2zM906 639h2v2h-2zM928 639h2v2h-2zM950 639h2v2h-2zM972 639h2v2h-2zM993 639h2v2h-2zM1015 639h2v2h-2zM1036 639h4v2h-4zM1058 639h2v2h-2zM1080 639h2v2h-2zM1102 639h2v2h-2zM1124 639h2v2h-2zM1145 639h2v2h-2zM1167 639h2v2h-2zM1189 639h2v2h-2zM15 661h2v2h-2zM37 661h2v2h-2zM59 661h2v2h-2zM80 661h2v2h-2zM102 661h2v2h-2zM124 661h2v2h-2zM146 661h2v2h-2zM166 661h4v2h-4zM189 661h2v2h-2zM211 661h2v2h-2zM232 661h2v2h-2zM254 661h2v2h-2zM276 661h2v2h-2zM298 661h2v2h-2zM319 661h2v2h-2zM341 661h2v2h-2zM363 661h2v2h-2zM384 661h4v2h-4zM406 661h2v2h-2zM428 661h2v2h-2zM450 661h2v2h-2zM472 661h2v2h-2zM493 661h2v2h-2zM515 661h2v2h-2zM537 661h2v2h-2zM559 661h2v2h-2zM580 661h2v2h-2zM601 661h4v2h-4zM624 661h2v2h-2zM645 661h2v2h-2zM667 661h2v2h-2zM689 661h2v2h-2zM711 661h2v2h-2zM732 661h2v2h-2zM754 661h2v2h-2zM776 661h2v2h-2zM798 661h2v2h-2zM818 661h4v2h-4zM841 661h2v2h-2zM863 661h2v2h-2zM885 661h2v2h-2zM906 661h2v2h-2zM928 661h2v2h-2zM950 661h2v2h-2zM972 661h2v2h-2zM993 661h2v2h-2zM1015 661h2v2h-2zM1036 661h4v2h-4zM1058 661h2v2h-2zM1080 661h2v2h-2zM1102 661h2v2h-2zM1124 661h2v2h-2zM1145 661h2v2h-2zM1167 661h2v2h-2zM1189 661h2v2h-2zM15 683h2v2h-2zM37 683h2v2h-2zM59 683h2v2h-2zM80 683h2v2h-2zM102 683h2v2h-2zM124 683h2v2h-2zM146 683h2v2h-2zM166 683h4v2h-4zM189 683h2v2h-2zM211 683h2v2h-2zM232 683h2v2h-2zM254 683h2v2h-2zM276 683h2v2h-2zM298 683h2v2h-2zM319 683h2v2h-2zM341 683h2v2h-2zM363 683h2v2h-2zM384 683h4v2h-4zM406 683h2v2h-2zM428 683h2v2h-2zM450 683h2v2h-2zM472 683h2v2h-2zM493 683h2v2h-2zM515 683h2v2h-2zM537 683h2v2h-2zM559 683h2v2h-2zM580 683h2v2h-2zM601 683h4v2h-4zM624 683h2v2h-2zM645 683h2v2h-2zM667 683h2v2h-2zM689 683h2v2h-2zM711 683h2v2h-2zM732 683h2v2h-2zM754 683h2v2h-2zM776 683h2v2h-2zM798 683h2v2h-2zM818 683h4v2h-4zM841 683h2v2h-2zM863 683h2v2h-2zM885 683h2v2h-2zM906 683h2v2h-2zM928 683h2v2h-2zM950 683h2v2h-2zM972 683h2v2h-2zM993 683h2v2h-2zM1015 683h2v2h-2zM1036 683h4v2h-4zM1058 683h2v2h-2zM1080 683h2v2h-2zM1102 683h2v2h-2zM1124 683h2v2h-2zM1145 683h2v2h-2zM1167 683h2v2h-2zM1189 683h2v2h-2zM15 704h2v2h-2zM37 704h2v2h-2zM59 704h2v2h-2zM80 704h2v2h-2zM102 704h2v2h-2zM124 704h2v2h-2zM146 704h2v2h-2zM166 704h4v2h-4zM189 704h2v2h-2zM211 704h2v2h-2zM232 704h2v2h-2zM254 704h2v2h-2zM276 704h2v2h-2zM298 704h2v2h-2zM319 704h2v2h-2zM341 704h2v2h-2zM363 704h2v2h-2zM384 704h4v2h-4zM406 704h2v2h-2zM428 704h2v2h-2zM450 704h2v2h-2zM472 704h2v2h-2zM493 704h2v2h-2zM515 704h2v2h-2zM537 704h2v2h-2zM559 704h2v2h-2zM580 704h2v2h-2zM601 704h4v2h-4zM624 704h2v2h-2zM645 704h2v2h-2zM667 704h2v2h-2zM689 704h2v2h-2zM711 704h2v2h-2zM732 704h2v2h-2zM754 704h2v2h-2zM776 704h2v2h-2zM798 704h2v2h-2zM818 704h4v2h-4zM841 704h2v2h-2zM863 704h2v2h-2zM885 704h2v2h-2zM906 704h2v2h-2zM928 704h2v2h-2zM950 704h2v2h-2zM972 704h2v2h-2zM993 704h2v2h-2zM1015 704h2v2h-2zM1036 704h4v2h-4zM1058 704h2v2h-2zM1080 704h2v2h-2zM1102 704h2v2h-2zM1124 704h2v2h-2zM1145 704h2v2h-2zM1167 704h2v2h-2zM1189 704h2v2h-2zM15 726h2v2h-2zM37 726h2v2h-2zM59 726h2v2h-2zM80 726h2v2h-2zM102 726h2v2h-2zM124 726h2v2h-2zM146 726h2v2h-2zM166 726h4v2h-4zM189 726h2v2h-2zM211 726h2v2h-2zM232 726h2v2h-2zM254 726h2v2h-2zM276 726h2v2h-2zM298 726h2v2h-2zM319 726h2v2h-2zM341 726h2v2h-2zM363 726h2v2h-2zM384 726h4v2h-4zM406 726h2v2h-2zM428 726h2v2h-2zM450 726h2v2h-2zM472 726h2v2h-2zM493 726h2v2h-2zM515 726h2v2h-2zM537 726h2v2h-2zM559 726h2v2h-2zM580 726h2v2h-2zM601 726h4v2h-4zM624 726h2v2h-2zM645 726h2v2h-2zM667 726h2v2h-2zM689 726h2v2h-2zM711 726h2v2h-2zM732 726h2v2h-2zM754 726h2v2h-2zM776 726h2v2h-2zM798 726h2v2h-2zM818 726h4v2h-4zM841 726h2v2h-2zM863 726h2v2h-2zM885 726h2v2h-2zM906 726h2v2h-2zM928 726h2v2h-2zM950 726h2v2h-2zM972 726h2v2h-2zM993 726h2v2h-2zM1015 726h2v2h-2zM1036 726h4v2h-4zM1058 726h2v2h-2zM1080 726h2v2h-2zM1102 726h2v2h-2zM1124 726h2v2h-2zM1145 726h2v2h-2zM1167 726h2v2h-2zM1189 726h2v2h-2zM15 748h2v2h-2zM37 748h2v2h-2zM59 748h2v2h-2zM80 748h2v2h-2zM102 748h2v2h-2zM124 748h2v2h-2zM146 748h2v2h-2zM166 748h4v2h-4zM189 748h2v2h-2zM211 748h2v2h-2zM232 748h2v2h-2zM254 748h2v2h-2zM276 748h2v2h-2zM298 748h2v2h-2zM319 748h2v2h-2zM341 748h2v2h-2zM363 748h2v2h-2zM384 748h4v2h-4zM406 748h2v2h-2zM428 748h2v2h-2zM450 748h2v2h-2zM472 748h2v2h-2zM493 748h2v2h-2zM515 748h2v2h-2zM537 748h2v2h-2zM559 748h2v2h-2zM580 748h2v2h-2zM601 748h4v2h-4zM624 748h2v2h-2zM645 748h2v2h-2zM667 748h2v2h-2zM689 748h2v2h-2zM711 748h2v2h-2zM732 748h2v2h-2zM754 748h2v2h-2zM776 748h2v2h-2zM798 748h2v2h-2zM818 748h4v2h-4zM841 748h2v2h-2zM863 748h2v2h-2zM885 748h2v2h-2zM906 748h2v2h-2zM928 748h2v2h-2zM950 748h2v2h-2zM972 748h2v2h-2zM993 748h2v2h-2zM1015 748h2v2h-2zM1036 748h4v2h-4zM1058 748h2v2h-2zM1080 748h2v2h-2zM1102 748h2v2h-2zM1124 748h2v2h-2zM1145 748h2v2h-2zM1167 748h2v2h-2zM1189 748h2v2h-2zM15 770h2v2h-2zM37 770h2v2h-2zM59 770h2v2h-2zM80 770h2v2h-2zM102 770h2v2h-2zM124 770h2v2h-2zM146 770h2v2h-2zM166 770h4v2h-4zM189 770h2v2h-2zM211 770h2v2h-2zM232 770h2v2h-2zM254 770h2v2h-2zM276 770h2v2h-2zM298 770h2v2h-2zM319 770h2v2h-2zM341 770h2v2h-2zM363 770h2v2h-2zM384 770h4v2h-4zM406 770h2v2h-2zM428 770h2v2h-2zM450 770h2v2h-2zM472 770h2v2h-2zM493 770h2v2h-2zM515 770h2v2h-2zM537 770h2v2h-2zM559 770h2v2h-2zM580 770h2v2h-2zM601 770h4v2h-4zM624 770h2v2h-2zM645 770h2v2h-2zM667 770h2v2h-2zM689 770h2v2h-2zM711 770h2v2h-2zM732 770h2v2h-2zM754 770h2v2h-2zM776 770h2v2h-2zM798 770h2v2h-2zM818 770h4v2h-4zM841 770h2v2h-2zM863 770h2v2h-2zM885 770h2v2h-2zM906 770h2v2h-2zM928 770h2v2h-2zM950 770h2v2h-2zM972 770h2v2h-2zM993 770h2v2h-2zM1015 770h2v2h-2zM1036 770h4v2h-4zM1058 770h2v2h-2zM1080 770h2v2h-2zM1102 770h2v2h-2zM1124 770h2v2h-2zM1145 770h2v2h-2zM1167 770h2v2h-2zM1189 770h2v2h-2zM15 791h2v2h-2zM37 791h2v2h-2zM59 791h2v2h-2zM80 791h2v2h-2zM102 791h2v2h-2zM124 791h2v2h-2zM146 791h2v2h-2zM166 791h4v2h-4zM189 791h2v2h-2zM211 791h2v2h-2zM232 791h2v2h-2zM254 791h2v2h-2zM276 791h2v2h-2zM298 791h2v2h-2zM319 791h2v2h-2zM341 791h2v2h-2zM363 791h2v2h-2zM384 791h4v2h-4zM406 791h2v2h-2zM428 791h2v2h-2zM450 791h2v2h-2zM472 791h2v2h-2zM493 791h2v2h-2zM515 791h2v2h-2zM537 791h2v2h-2zM559 791h2v2h-2zM580 791h2v2h-2zM601 791h4v2h-4zM624 791h2v2h-2zM645 791h2v2h-2zM667 791h2v2h-2zM689 791h2v2h-2zM711 791h2v2h-2zM732 791h2v2h-2zM754 791h2v2h-2zM776 791h2v2h-2zM798 791h2v2h-2zM818 791h4v2h-4zM841 791h2v2h-2zM863 791h2v2h-2zM885 791h2v2h-2zM906 791h2v2h-2zM928 791h2v2h-2zM950 791h2v2h-2zM972 791h2v2h-2zM993 791h2v2h-2zM1015 791h2v2h-2zM1036 791h4v2h-4zM1058 791h2v2h-2zM1080 791h2v2h-2zM1102 791h2v2h-2zM1124 791h2v2h-2zM1145 791h2v2h-2zM1167 791h2v2h-2zM1189 791h2v2h-2zM15 812h2v4h-2zM37 812h2v4h-2zM59 812h2v4h-2zM80 812h2v4h-2zM102 812h2v4h-2zM124 812h2v4h-2zM146 812h2v4h-2zM166 812h4v4h-4zM189 812h2v4h-2zM211 812h2v4h-2zM232 812h2v4h-2zM254 812h2v4h-2zM276 812h2v4h-2zM298 812h2v4h-2zM319 812h2v4h-2zM341 812h2v4h-2zM363 812h2v4h-2zM384 812h4v4h-4zM406 812h2v4h-2zM428 812h2v4h-2zM450 812h2v4h-2zM472 812h2v4h-2zM493 812h2v4h-2zM515 812h2v4h-2zM537 812h2v4h-2zM559 812h2v4h-2zM580 812h2v4h-2zM601 812h4v4h-4zM624 812h2v4h-2zM645 812h2v4h-2zM667 812h2v4h-2zM689 812h2v4h-2zM711 812h2v4h-2zM732 812h2v4h-2zM754 812h2v4h-2zM776 812h2v4h-2zM798 812h2v4h-2zM818 812h4v4h-4zM841 812h2v4h-2zM863 812h2v4h-2zM885 812h2v4h-2zM906 812h2v4h-2zM928 812h2v4h-2zM950 812h2v4h-2zM972 812h2v4h-2zM993 812h2v4h-2zM1015 812h2v4h-2zM1036 812h4v4h-4zM1058 812h2v4h-2zM1080 812h2v4h-2zM1102 812h2v4h-2zM1124 812h2v4h-2zM1145 812h2v4h-2zM1167 812h2v4h-2zM1189 812h2v4h-2zM15 835h2v2h-2zM37 835h2v2h-2zM59 835h2v2h-2zM80 835h2v2h-2zM102 835h2v2h-2zM124 835h2v2h-2zM146 835h2v2h-2zM166 835h4v2h-4zM189 835h2v2h-2zM211 835h2v2h-2zM232 835h2v2h-2zM254 835h2v2h-2zM276 835h2v2h-2zM298 835h2v2h-2zM319 835h2v2h-2zM341 835h2v2h-2zM363 835h2v2h-2zM384 835h4v2h-4zM406 835h2v2h-2zM428 835h2v2h-2zM450 835h2v2h-2zM472 835h2v2h-2zM493 835h2v2h-2zM515 835h2v2h-2zM537 835h2v2h-2zM559 835h2v2h-2zM580 835h2v2h-2zM601 835h4v2h-4zM624 835h2v2h-2zM645 835h2v2h-2zM667 835h2v2h-2zM689 835h2v2h-2zM711 835h2v2h-2zM732 835h2v2h-2zM754 835h2v2h-2zM776 835h2v2h-2zM798 835h2v2h-2zM818 835h4v2h-4zM841 835h2v2h-2zM863 835h2v2h-2zM885 835h2v2h-2zM906 835h2v2h-2zM928 835h2v2h-2zM950 835h2v2h-2zM972 835h2v2h-2zM993 835h2v2h-2zM1015 835h2v2h-2zM1036 835h4v2h-4zM1058 835h2v2h-2zM1080 835h2v2h-2zM1102 835h2v2h-2zM1124 835h2v2h-2zM1145 835h2v2h-2zM1167 835h2v2h-2zM1189 835h2v2h-2zM15 857h2v2h-2zM37 857h2v2h-2zM59 857h2v2h-2zM80 857h2v2h-2zM102 857h2v2h-2zM124 857h2v2h-2zM146 857h2v2h-2zM166 857h4v2h-4zM189 857h2v2h-2zM211 857h2v2h-2zM232 857h2v2h-2zM254 857h2v2h-2zM276 857h2v2h-2zM298 857h2v2h-2zM319 857h2v2h-2zM341 857h2v2h-2zM363 857h2v2h-2zM384 857h4v2h-4zM406 857h2v2h-2zM428 857h2v2h-2zM450 857h2v2h-2zM472 857h2v2h-2zM493 857h2v2h-2zM515 857h2v2h-2zM537 857h2v2h-2zM559 857h2v2h-2zM580 857h2v2h-2zM601 857h4v2h-4zM624 857h2v2h-2zM645 857h2v2h-2zM667 857h2v2h-2zM689 857h2v2h-2zM711 857h2v2h-2zM732 857h2v2h-2zM754 857h2v2h-2zM776 857h2v2h-2zM798 857h2v2h-2zM818 857h4v2h-4zM841 857h2v2h-2zM863 857h2v2h-2zM885 857h2v2h-2zM906 857h2v2h-2zM928 857h2v2h-2zM950 857h2v2h-2zM972 857h2v2h-2zM993 857h2v2h-2zM1015 857h2v2h-2zM1036 857h4v2h-4zM1058 857h2v2h-2zM1080 857h2v2h-2zM1102 857h2v2h-2zM1124 857h2v2h-2zM1145 857h2v2h-2zM1167 857h2v2h-2zM1189 857h2v2h-2zM15 878h2v2h-2zM37 878h2v2h-2zM59 878h2v2h-2zM80 878h2v2h-2zM102 878h2v2h-2zM124 878h2v2h-2zM146 878h2v2h-2zM166 878h4v2h-4zM189 878h2v2h-2zM211 878h2v2h-2zM232 878h2v2h-2zM254 878h2v2h-2zM276 878h2v2h-2zM298 878h2v2h-2zM319 878h2v2h-2zM341 878h2v2h-2zM363 878h2v2h-2zM384 878h4v2h-4zM406 878h2v2h-2zM428 878h2v2h-2zM450 878h2v2h-2zM472 878h2v2h-2zM493 878h2v2h-2zM515 878h2v2h-2zM537 878h2v2h-2zM559 878h2v2h-2zM580 878h2v2h-2zM601 878h4v2h-4zM624 878h2v2h-2zM645 878h2v2h-2zM667 878h2v2h-2zM689 878h2v2h-2zM711 878h2v2h-2zM732 878h2v2h-2zM754 878h2v2h-2zM776 878h2v2h-2zM798 878h2v2h-2zM818 878h4v2h-4zM841 878h2v2h-2zM863 878h2v2h-2zM885 878h2v2h-2zM906 878h2v2h-2zM928 878h2v2h-2zM950 878h2v2h-2zM972 878h2v2h-2zM993 878h2v2h-2zM1015 878h2v2h-2zM1036 878h4v2h-4zM1058 878h2v2h-2zM1080 878h2v2h-2zM1102 878h2v2h-2zM1124 878h2v2h-2zM1145 878h2v2h-2zM1167 878h2v2h-2zM1189 878h2v2h-2zM15 900h2v2h-2zM37 900h2v2h-2zM59 900h2v2h-2zM80 900h2v2h-2zM102 900h2v2h-2zM124 900h2v2h-2zM146 900h2v2h-2zM166 900h4v2h-4zM189 900h2v2h-2zM211 900h2v2h-2zM232 900h2v2h-2zM254 900h2v2h-2zM276 900h2v2h-2zM298 900h2v2h-2zM319 900h2v2h-2zM341 900h2v2h-2zM363 900h2v2h-2zM384 900h4v2h-4zM406 900h2v2h-2zM428 900h2v2h-2zM450 900h2v2h-2zM472 900h2v2h-2zM493 900h2v2h-2zM515 900h2v2h-2zM537 900h2v2h-2zM559 900h2v2h-2zM580 900h2v2h-2zM601 900h4v2h-4zM624 900h2v2h-2zM645 900h2v2h-2zM667 900h2v2h-2zM689 900h2v2h-2zM711 900h2v2h-2zM732 900h2v2h-2zM754 900h2v2h-2zM776 900h2v2h-2zM798 900h2v2h-2zM818 900h4v2h-4zM841 900h2v2h-2zM863 900h2v2h-2zM885 900h2v2h-2zM906 900h2v2h-2zM928 900h2v2h-2zM950 900h2v2h-2zM972 900h2v2h-2zM993 900h2v2h-2zM1015 900h2v2h-2zM1036 900h4v2h-4zM1058 900h2v2h-2zM1080 900h2v2h-2zM1102 900h2v2h-2zM1124 900h2v2h-2zM1145 900h2v2h-2zM1167 900h2v2h-2zM1189 900h2v2h-2zM15 922h2v2h-2zM37 922h2v2h-2zM59 922h2v2h-2zM80 922h2v2h-2zM102 922h2v2h-2zM124 922h2v2h-2zM146 922h2v2h-2zM166 922h4v2h-4zM189 922h2v2h-2zM211 922h2v2h-2zM232 922h2v2h-2zM254 922h2v2h-2zM276 922h2v2h-2zM298 922h2v2h-2zM319 922h2v2h-2zM341 922h2v2h-2zM363 922h2v2h-2zM384 922h4v2h-4zM406 922h2v2h-2zM428 922h2v2h-2zM450 922h2v2h-2zM472 922h2v2h-2zM493 922h2v2h-2zM515 922h2v2h-2zM537 922h2v2h-2zM559 922h2v2h-2zM580 922h2v2h-2zM601 922h4v2h-4zM624 922h2v2h-2zM645 922h2v2h-2zM667 922h2v2h-2zM689 922h2v2h-2zM711 922h2v2h-2zM732 922h2v2h-2zM754 922h2v2h-2zM776 922h2v2h-2zM798 922h2v2h-2zM818 922h4v2h-4zM841 922h2v2h-2zM863 922h2v2h-2zM885 922h2v2h-2zM906 922h2v2h-2zM928 922h2v2h-2zM950 922h2v2h-2zM972 922h2v2h-2zM993 922h2v2h-2zM1015 922h2v2h-2zM1036 922h4v2h-4zM1058 922h2v2h-2zM1080 922h2v2h-2zM1102 922h2v2h-2zM1124 922h2v2h-2zM1145 922h2v2h-2zM1167 922h2v2h-2zM1189 922h2v2h-2zM15 943h2v2h-2zM37 943h2v2h-2zM59 943h2v2h-2zM80 943h2v2h-2zM102 943h2v2h-2zM124 943h2v2h-2zM146 943h2v2h-2zM166 943h4v2h-4zM189 943h2v2h-2zM211 943h2v2h-2zM232 943h2v2h-2zM254 943h2v2h-2zM276 943h2v2h-2zM298 943h2v2h-2zM319 943h2v2h-2zM341 943h2v2h-2zM363 943h2v2h-2zM384 943h4v2h-4zM406 943h2v2h-2zM428 943h2v2h-2zM450 943h2v2h-2zM472 943h2v2h-2zM493 943h2v2h-2zM515 943h2v2h-2zM537 943h2v2h-2zM559 943h2v2h-2zM580 943h2v2h-2zM601 943h4v2h-4zM624 943h2v2h-2zM645 943h2v2h-2zM667 943h2v2h-2zM689 943h2v2h-2zM711 943h2v2h-2zM732 943h2v2h-2zM754 943h2v2h-2zM776 943h2v2h-2zM798 943h2v2h-2zM818 943h4v2h-4zM841 943h2v2h-2zM863 943h2v2h-2zM885 943h2v2h-2zM906 943h2v2h-2zM928 943h2v2h-2zM950 943h2v2h-2zM972 943h2v2h-2zM993 943h2v2h-2zM1015 943h2v2h-2zM1036 943h4v2h-4zM1058 943h2v2h-2zM1080 943h2v2h-2zM1102 943h2v2h-2zM1124 943h2v2h-2zM1145 943h2v2h-2zM1167 943h2v2h-2zM1189 943h2v2h-2zM15 965h2v2h-2zM37 965h2v2h-2zM59 965h2v2h-2zM80 965h2v2h-2zM102 965h2v2h-2zM124 965h2v2h-2zM146 965h2v2h-2zM166 965h4v2h-4zM189 965h2v2h-2zM211 965h2v2h-2zM232 965h2v2h-2zM254 965h2v2h-2zM276 965h2v2h-2zM298 965h2v2h-2zM319 965h2v2h-2zM341 965h2v2h-2zM363 965h2v2h-2zM384 965h4v2h-4zM406 965h2v2h-2zM428 965h2v2h-2zM450 965h2v2h-2zM472 965h2v2h-2zM493 965h2v2h-2zM515 965h2v2h-2zM537 965h2v2h-2zM559 965h2v2h-2zM580 965h2v2h-2zM601 965h4v2h-4zM624 965h2v2h-2zM645 965h2v2h-2zM667 965h2v2h-2zM689 965h2v2h-2zM711 965h2v2h-2zM732 965h2v2h-2zM754 965h2v2h-2zM776 965h2v2h-2zM798 965h2v2h-2zM818 965h4v2h-4zM841 965h2v2h-2zM863 965h2v2h-2zM885 965h2v2h-2zM906 965h2v2h-2zM928 965h2v2h-2zM950 965h2v2h-2zM972 965h2v2h-2zM993 965h2v2h-2zM1015 965h2v2h-2zM1036 965h4v2h-4zM1058 965h2v2h-2zM1080 965h2v2h-2zM1102 965h2v2h-2zM1124 965h2v2h-2zM1145 965h2v2h-2zM1167 965h2v2h-2zM1189 965h2v2h-2z" fill="#444659" shape-rendering="crispEdges"/>
<clipPath id="hc"><path d="M370 245H427V271H370ZM427 245H446V280H427Z"/></clipPath>
<path d="M388 268L383 268M383 268L383 257M392 265L397 265M391 268L394 257M394 257L398 268M405 262L407 263M407 263L407 263M407 263L408 264M408 264L408 266M408 266L407 267M407 267L407 268M407 268L406 268M406 268L401 268M401 268L401 257M401 257L405 257M405 257L406 258M406 258L407 258M407 258L407 259M407 259L407 260M407 260L407 261M407 261L406 262M406 262L405 262M405 262L401 262M412 262L416 262M417 268L412 268M412 268L412 257M412 257L417 257M427 268L422 268M422 268L422 257M433 260L434 260M434 260L434 261M434 261L435 261M435 261L435 262M435 262L436 264M436 264L436 266M436 266L435 268M435 268L435 268M435 268L434 269M434 269L434 269M434 269L433 269M433 269L432 269M432 269L432 268M432 268L431 268M431 268L431 266M431 266L431 264M431 264L431 262M431 262L432 261M432 261L432 261M432 261L433 260" stroke="#b9e6fa" stroke-width="7.3" fill="none" clip-path="url(#hc)"/>
<path d="M36 29H1170V31H36ZM1169 30H1171V946H1169ZM36 945H1170V947H36ZM35 30H37V946H35ZM54 46H1152V48H54ZM1151 47H1153V929H1151ZM54 928H1152V930H54ZM53 47H55V929H53ZM463 29.45H465V47.55H463ZM463 928.45H465V946.55H463ZM891 29.45H893V47.55H891ZM891 928.45H893V946.55H891ZM35.45 457H54.55V459H35.45ZM1151.45 457H1170.55V459H1151.45ZM35.45 885H54.55V887H35.45ZM1151.45 885H1170.55V887H1151.45ZM227 655H229V929.55H227ZM228 654H1152.55V656H228ZM227.45 787H1152.55V789H227.45ZM227.45 838H1152.55V840H227.45ZM227.45 872H1152.55V874H227.45ZM227.45 898H1152.55V900H227.45ZM398 872.45H400V899.55H398ZM946 872.45H948V929.55H946ZM252.45 43H259.55V45H252.45ZM255 33H257V44.55H255ZM252.45 941H259.55V943H252.45ZM255 931H257V942.55H255ZM682 32H683V34H682ZM683 32H685V34H683ZM685 32H686V34H685ZM686 34H688V35H686ZM686 35H688V36H686ZM686 36H688V38H686ZM681 43H687.55V45H681ZM680.45 931H682V933H680.45ZM683 930H685V932H683ZM686 931H687V933H686ZM686 932H688V933H686ZM686 933H688V935H686ZM686 935H688V936H686ZM681 941H687.55V943H681ZM1107.45 32H1115V34H1107.45ZM1112 36H1113V38H1112ZM1114 37H1115V39H1114ZM1114 38H1116V39H1114ZM1114 39H1116V42H1114ZM1114 42H1116V43H1114ZM1114 42H1115V44H1114ZM1110 43H1113V45H1110ZM1107.45 42H1109V44H1107.45ZM1107.45 930H1115V932H1107.45ZM1112 935H1113V937H1112ZM1113 935H1114V937H1113ZM1114 937H1116V938H1114ZM1114 938H1116V940H1114ZM1114 940H1116V941H1114ZM1113 941H1114V943H1113ZM1110 941H1113V943H1110ZM1109 941H1110V943H1109ZM41.45 245H48.55V247H41.45ZM1157.45 245H1164.55V247H1157.45ZM47 671H48V673H47ZM47 672H49V673H47ZM47 673H49V675H47ZM47 675H49V676H47ZM47 675H48V677H47ZM42 676H46V678H42ZM41 666H43V677H41ZM42 665H46V667H42ZM46 665H47V667H46ZM46 666H48V667H46ZM47 668H49V669H47ZM46 670H48V671H46ZM46 670H47V672H46ZM41.45 670H46V672H41.45ZM1163 671H1164V673H1163ZM1163 672H1165V673H1163ZM1163 673H1165V675H1163ZM1163 675H1165V676H1163ZM1163 675H1164V677H1163ZM1158 676H1162V678H1158ZM1157 666H1159V677H1157ZM1158 665H1162V667H1158ZM1162 665H1163V667H1162ZM1162 666H1164V667H1162ZM1163 668H1165V669H1163ZM1162 670H1164V671H1162ZM1162 670H1163V672H1162ZM1157.45 670H1162V672H1157.45ZM428 880H430V893H428ZM429 879H432V881H429ZM434 882H436V883H434ZM435 885H437V887H435ZM434 890H436V891H434ZM429 892H432V894H429ZM446 886H448V893.55H446ZM443 883H445V885H443ZM443 892H446V894H443ZM440 890H442V891H440ZM442 887H443V889H442ZM443 887H446V889H443ZM450.45 883H456.55V885H450.45ZM452 879.45H454V891H452ZM455 892H456.55V894H455ZM462 892H464V894H462ZM459 886H461V891H459ZM462 883H464V885H462ZM465 886H467V887H465ZM486.45 892H494.55V894H486.45ZM489 880H491V893.55H489ZM502 879H503V881H502ZM504.45 880H505.55V882H504.45ZM505 882H507V885H505ZM505 885H507V888H505ZM505 888H507V890H505ZM504.45 891H505.55V893H504.45ZM502 892H503V894H502ZM500 891H501V893H500ZM499 890H501V892H499ZM498 885H500V888H498ZM499 881H501V882H499ZM500 880H501V882H500ZM524.45 880H525.55V882H524.45ZM527 879H530V881H527ZM530.45 880H531.55V882H530.45ZM531 882H533V884H531ZM524 892H532.55V894H524ZM537.45 892H541V894H537.45ZM541.45 891H542.55V893H541.45ZM543 887H545V890H543ZM543 882H545V887H543ZM543 881H545V882H543ZM543 880H544V882H543ZM539 879H542V881H539ZM537.45 880H538.55V882H537.45ZM536 882H538V885H536ZM537.45 886H538.55V888H537.45ZM539 887H542V889H539ZM543 886H544V888H543ZM543 884.45H545V887H543ZM562.45 880H563.55V882H562.45ZM564 879H568V881H564ZM568.45 880H569.55V882H568.45ZM569 882H571V884H569ZM562 892H570.55V894H562ZM578 879H579V881H578ZM580 880H581V882H580ZM581 882H583V885H581ZM581 885H583V888H581ZM581 888H583V890H581ZM580 891H581V893H580ZM578 892H579V894H578ZM576 891H577V893H576ZM574 888H576V890H574ZM574 885H576V888H574ZM574 882H576V885H574ZM576 880H577V882H576ZM586.45 880H588V882H586.45ZM589 879H592V881H589ZM593 880H594V882H593ZM593 881H595V882H593ZM593 882H595V884H593ZM593 884H595V885H593ZM586 892H594.55V894H586ZM602 879H604V881H602ZM604.45 880H605.55V882H604.45ZM606 885H608V888H606ZM604.45 891H605.55V893H604.45ZM602 892H604V894H602ZM600.45 891H601.55V893H600.45ZM598 885H600V888H598ZM600.45 880H601.55V882H600.45ZM239 903.45H241V917.55H239ZM252 907.45H254V917.55H252ZM263 916H264V918H263ZM258 911H260V914H258ZM258 909H260V911H258ZM258 907H260V909H258ZM261 903H263V905H261ZM263 903H264V905H263ZM264 903H266V905H264ZM277 910H279V917.55H277ZM273 907H276V909H273ZM273 916H277V918H273ZM271 915H273V916H271ZM271 914H273V915H271ZM271 912H273V914H271ZM272 911H273V913H272ZM273 911H277V913H273ZM288 903.45H290V917.55H288ZM286 916H288V918H286ZM283 915H285V916H283ZM282 911H284V914H282ZM283.45 908H284.55V910H283.45ZM286 907H288V909H286ZM304.45 909H310.55V911H304.45ZM305 916H311.55V918H305ZM304 904H306V917H304ZM305 903H311.55V905H305ZM322 904H324V917H322ZM323 903H326V905H323ZM326 903H328V905H326ZM329 907H331V909H329ZM329 909H331V911H329ZM329 911H331V914H329ZM323 916H326V918H323ZM340.45 912H347.55V914H340.45ZM378 903.45H380V917.55H378ZM388 907.45H390V917.55H388ZM397 916H399V918H397ZM394 914H396V915H394ZM394 911H396V914H394ZM394 909H396V911H394ZM395 908H396V910H395ZM397 907H399V909H397ZM411 910H413V917.55H411ZM407 907H410V909H407ZM407 916H410V918H407ZM405 915H407V916H405ZM405 914H407V915H405ZM405 912H407V914H405ZM406 911H407V913H406ZM407 911H410V913H407ZM422 903.45H424V917.55H422ZM420 916H422V918H420ZM417 915H419V916H417ZM416 911H418V914H416ZM417.45 908H418.55V910H417.45ZM420 907H422V909H420ZM438 912H440V914H438ZM442 903H443.55V905H442ZM448 903H454.55V905H448ZM448 908H449V910H448ZM449 908H452V910H449ZM452 908H453V910H452ZM453 910H455V911H453ZM453 911H455V914H453ZM453 914H455V915H453ZM449 916H452V918H449ZM466.45 916H469V918H466.45ZM472 906H474V911H472ZM471 904H473V905H471ZM470 903H472V905H470ZM468 903H470V905H468ZM467 903H468V905H467ZM464 906H466V909H464ZM466 910H467V912H466ZM468 911H470V913H468ZM471.45 910H472.55V912H471.45ZM478.45 916H481V918H478.45ZM482 915H484V916H482ZM484 906H486V911H484ZM483 904H485V905H483ZM483 903H484V905H483ZM480 903H483V905H480ZM479 903H480V905H479ZM477 905H479V906H477ZM477 906H479V909H477ZM477 909H479V911H477ZM478 910H479V912H478ZM480 911H483V913H480ZM483.45 910H484.55V912H483.45ZM499 903H500V905H499ZM500 903H502V905H500ZM501 904H503V905H501ZM502 906H504V909H502ZM502 909H504V912H502ZM502 912H504V914H502ZM501 915H503V916H501ZM499 916H500V918H499ZM496 914H498V915H496ZM495 909H497V912H495ZM496 905H498V906H496ZM498 903H499V905H498ZM508.45 911H519.55V913H508.45ZM525 903H526V905H525ZM526 903H529V905H526ZM529 903H530V905H529ZM530 905H532V906H530ZM530 906H532V908H530ZM530 908H532V909H530ZM524 916H531.55V918H524ZM538 908H539.55V910H538ZM535 906H537V907H535ZM538 903H539V905H538ZM539 903H541V905H539ZM541 903H542V905H541ZM543 906H545V907H543ZM541 908H542V910H541ZM539 908H541V910H539ZM535 912H537V914H535ZM539 916H541V918H539ZM543 912H545V914H543ZM550 908H551.55V910H550ZM548 907H550V908H548ZM548 906H550V907H548ZM548 905H550V906H548ZM550 903H551V905H550ZM551 903H553V905H551ZM553 903H555V905H553ZM554 904H556V905H554ZM555 906H557V907H555ZM554 908H556V909H554ZM553 908H555V910H553ZM551 908H553V910H551ZM548 911H550V912H548ZM548 912H550V914H548ZM548 914H550V915H548ZM551 916H553V918H551ZM554 915H556V916H554ZM555 912H557V914H555ZM554 910H556V911H554ZM559.45 903H569V905H559.45ZM573.45 911H583.55V913H573.45ZM594 907.45H596V919H594ZM593.45 919H594.55V921H593.45ZM591 920H593V922H591ZM591 916H594V918H591ZM589 915H591V916H589ZM588 911H590V914H588ZM589.45 908H590.55V910H589.45ZM591 907H594V909H591ZM606 903.45H608V917.55H606ZM603 916H605V918H603ZM600 914H602V915H600ZM600 911H602V914H600ZM600 909H602V911H600ZM601 908H602V910H601ZM603 907H605V909H603ZM610.45 907H616.55V909H610.45ZM612 906H614V917.55H612ZM612 904H614V906H612ZM613 903H615V905H613ZM615 903H616.55V905H615ZM625 907.45H627V917.55H625ZM619 911H627.55V913H619ZM632 903H638.55V905H632ZM631 904H633V910H631ZM631 909H633V910H631ZM632 908H634V910H632ZM634 908H637V910H634ZM637 908H638V910H637ZM637 909H639V910H637ZM638 911H640V914H638ZM637 915H639V916H637ZM634 916H637V918H634ZM631 914.45H633V916H631ZM649 910H651V917.55H649ZM646 907H648V909H646ZM646 916H649V918H646ZM643 914H645V915H643ZM645 911H646V913H645ZM646 911H649V913H646ZM659 903H662.55V905H659ZM658 903H659V905H658ZM655 907H657V909H655ZM655 909H657V914H655ZM655 914H657V915H655ZM658 916H660V918H658ZM661 915H663V916H661ZM662 911H664V914H662ZM661 909H663V910H661ZM660 908H662V910H660ZM658 908H660V910H658ZM657 908H658V910H657ZM655 910H657V911.55H655ZM671 903H674.55V905H671ZM670 903H671V905H670ZM669 904H671V905H669ZM667 907H669V909H667ZM667 909H669V914H667ZM667 914H669V915H667ZM670 916H673V918H670ZM674 914H676V915H674ZM674 911H676V914H674ZM674 910H676V911H674ZM673 908H674V910H673ZM670 908H673V910H670ZM669 908H670V910H669ZM667 910H669V911.55H667ZM680.45 916H684V918H680.45ZM686 911H688V914H686ZM686 906H688V911H686ZM686 905H688V906H686ZM685 903H686V905H685ZM682 903H685V905H682ZM681 903H682V905H681ZM680 904H682V905H680ZM679 906H681V909H679ZM680.45 910H681.55V912H680.45ZM682 911H685V913H682ZM686 910H687V912H686ZM686 908.45H688V911H686ZM692.45 916H696V918H692.45ZM699 906H701V911H699ZM697 903H698V905H697ZM695 903H697V905H695ZM693 903H695V905H693ZM692 904H694V905H692ZM691 906H693V909H691ZM692.45 910H693.55V912H692.45ZM695 911H697V913H695ZM698 910H699V912H698ZM703 921H705V922.55H703ZM707 912H709V914H707ZM703.45 903H704.55V905H703.45ZM242 892H245V894H242ZM246 891H247V893H246ZM246 890H248V892H246ZM246 889H248V890H246ZM246 888H248V889H246ZM239 884H241V885H239ZM239 883H241V884H239ZM239 882H241V883H239ZM242 879H245V881H242ZM252 883.45H254V893.55H252ZM257.45 883H264V885H257.45ZM258 892H264.55V894H258ZM270 892H273V894H270ZM268 891H270V892H268ZM268 886H270V891H268ZM268 885H270V886H268ZM270 883H273V885H270ZM274 886H276V887H274ZM295 879.45H297V890H295ZM296.45 891H297.55V893H296.45ZM299 892H301V894H299ZM302 891H303V893H302ZM302 890H304V892H302ZM302 879.45H304V890H302ZM310 892H313V894H310ZM313 891H315V892H313ZM313 890H315V891H313ZM313 889H315V890H313ZM311 887H313V889H311ZM310 887H311V889H310ZM308 886H310V887H308ZM311 883H313V885H311ZM321 892H324V894H321ZM318 886H320V891H318ZM321 883H324V885H321ZM324 885H326V886H324ZM324 886H326V887H324ZM330 883.45H332V893.55H330ZM331.45 884H332.55V886H331.45ZM333 883H335.55V885H333ZM967 903.45H969V917.55H967ZM979 903.45H981V917.55H979ZM976 916H978V918H976ZM972 911H974V914H972ZM974 908H975V910H974ZM976 907H978V909H976ZM1000.45 916H1008.55V918H1000.45ZM1004 904H1006V917.55H1004ZM1026.45 916H1034.55V918H1026.45ZM1029 904H1031V917.55H1029ZM239.45 822H245.55V824H239.45ZM239 817H241V829.55H239ZM240 816H247.55V818H240ZM250 820.45H252V829.55H250ZM258 828H259.55V830H258ZM257 828H259V829H257ZM257 816.45H259V828H257ZM268 828H269.55V830H268ZM266 828H268V830H266ZM264 828H266V830H264ZM263 828H265V829H263ZM263 823H265V828H263ZM263 821H265V823H263ZM264 820H266V822H264ZM266 820H268V822H266ZM268 820H269V822H268ZM269 823H271V824H269ZM239.45 805H242V807H239.45ZM242 805H245V807H242ZM245 805H246V807H245ZM246 804H248V805H246ZM246 803H248V804H246ZM246 801H248V803H246ZM246 800H247V802H246ZM239 798H241V799H239ZM239 797H241V798H239ZM239 795H241V797H239ZM242 792H245V794H242ZM252 792.45H254V806.55H252ZM257 800H259V806.55H257ZM257 798H259V800H257ZM256 797H258V799H256ZM255 797H256V799H255ZM253 797H255V799H253ZM252 798H254V799.55H252ZM268 805H269.55V807H268ZM266 805H268V807H266ZM264 805H266V807H264ZM263 804H265V806H263ZM263 800H265V804H263ZM263 798H265V800H263ZM264 797H266V799H264ZM266 797H268V799H266ZM268 797H269V799H268ZM269 800H271V801H269ZM279 805H280.55V807H279ZM277 805H279V807H277ZM275 805H277V807H275ZM274 804H276V806H274ZM274 800H276V804H274ZM274 798H276V800H274ZM275 797H277V799H275ZM277 797H279V799H277ZM279 797H280V799H279ZM280 800H282V801H280ZM283.45 797H289.55V799H283.45ZM285 792.45H287V804H285ZM287 805H288V807H287ZM288 805H289.55V807H288Z" fill="#d251e6" fill-opacity="0.48"/>
<path d="M256 33L255 34M255 34L254 35M254 35L253 36M256 931L255 933M255 933L254 934M254 934L253 935M681 34L682 33M686 33L687 34M687 38L681 44M682 932L683 931M685 931L686 932M687 936L681 942M1115 33L1112 37M1113 37L1114 38M1114 43L1113 44M1110 44L1109 43M1115 931L1112 936M1114 936L1115 937M1115 941L1114 942M1109 942L1108 941M41 249L45 238M45 238L49 249M1157 249L1161 238M1161 238L1165 249M46 671L47 672M47 676L46 677M47 667L48 668M48 669L47 670M1162 671L1163 672M1163 676L1162 677M1163 667L1164 668M1164 669L1163 670M432 880L434 881M434 881L435 882M435 883L436 885M436 887L435 890M435 891L434 892M434 892L432 893M447 886L446 885M446 885L445 884M443 884L442 885M447 892L446 893M443 893L442 892M442 892L441 891M441 890L442 888M446 888L447 887M453 891L454 892M454 892L455 893M465 892L464 893M462 893L461 892M461 892L460 891M460 886L461 885M461 885L462 884M464 884L465 885M465 885L466 886M466 887L460 888M490 880L489 882M489 882L488 883M488 883L487 884M503 880L505 881M505 881L506 882M506 890L505 892M505 892L503 893M502 893L501 892M500 890L499 888M499 885L500 882M501 881L502 880M521 879L510 896M525 881L527 880M530 880L531 881M531 881L532 882M532 884L531 885M531 885L524 893M541 893L542 892M542 892L544 890M543 881L542 880M539 880L538 881M538 881L537 882M537 885L538 887M538 887L539 888M542 888L543 887M559 879L548 896M563 881L564 880M568 880L569 881M569 881L570 882M570 884L569 885M569 885L562 893M579 880L580 881M581 881L582 882M582 890L581 892M580 892L579 893M578 893L577 892M576 892L575 890M575 882L576 881M577 881L578 880M588 881L589 880M592 880L593 881M594 885L586 893M604 880L605 881M605 881L606 882M606 882L607 885M607 888L606 890M606 890L605 892M605 892L604 893M602 893L601 892M601 892L600 890M600 890L599 888M599 885L600 882M600 882L601 881M601 881L602 880M248 917L242 909M248 904L240 911M267 915L266 916M266 916L264 917M263 917L261 916M261 916L260 915M260 915L259 914M259 907L260 906M260 906L261 904M266 904L267 905M278 910L277 909M277 909L276 908M273 908L272 909M278 916L277 917M273 917L272 916M277 912L278 911M289 916L288 917M286 917L284 916M284 915L283 914M283 911L284 909M284 909L286 908M288 908L289 909M328 904L329 906M329 906L330 907M330 914L329 915M329 915L328 916M328 916L326 917M340 917L344 904M344 904L349 917M380 912L384 917M384 908L379 913M401 916L399 917M397 917L396 916M396 916L395 915M396 909L397 908M399 908L401 909M412 910L411 909M411 909L410 908M407 908L406 909M412 916L410 917M407 917L406 916M410 912L412 911M423 916L422 917M420 917L418 916M418 915L417 914M417 911L418 909M418 909L420 908M422 908L423 909M443 922L442 921M442 921L441 919M441 919L440 917M440 917L439 914M439 912L440 909M440 909L441 906M441 906L442 904M448 904L447 910M447 910L448 909M453 909L454 910M454 915L453 916M453 916L452 917M449 917L448 916M448 916L447 915M469 917L470 916M470 916L471 915M471 915L472 914M472 914L473 911M473 906L472 905M467 904L466 905M466 905L465 906M465 909L466 911M467 911L468 912M470 912L472 911M472 911L473 909M481 917L483 916M483 915L484 914M484 914L485 911M485 906L484 905M479 904L478 905M479 911L480 912M483 912L484 911M484 911L485 909M502 905L503 906M503 914L502 915M502 916L500 917M499 917L498 916M498 916L497 915M497 914L496 912M496 909L497 906M497 905L498 904M524 905L525 904M530 904L531 905M531 909L524 917M538 909L537 908M537 908L536 907M536 906L537 905M537 905L538 904M542 904L543 905M543 905L544 906M544 907L543 908M543 908L542 909M539 909L538 910M538 910L537 911M537 911L536 912M536 914L537 915M537 915L538 916M538 916L539 917M541 917L542 916M542 916L543 915M543 915L544 914M544 912L543 911M543 911L542 910M542 910L541 909M550 909L549 908M549 905L550 904M555 905L556 906M556 907L555 908M551 909L550 910M550 910L549 911M549 915L550 916M550 916L551 917M553 917L555 916M555 915L556 914M556 912L555 911M555 910L553 909M569 904L563 917M595 919L594 920M594 920L593 921M591 921L590 920M595 916L594 917M591 917L590 916M590 915L589 914M589 911L590 909M590 909L591 908M594 908L595 909M607 916L605 917M603 917L602 916M602 916L601 915M602 909L603 908M605 908L607 909M623 903L619 912M638 910L639 911M639 914L638 915M638 916L637 917M634 917L632 916M650 910L649 909M649 909L648 908M646 908L645 909M650 916L649 917M646 917L645 916M645 916L644 915M644 914L645 912M649 912L650 911M658 904L657 905M657 905L656 907M656 915L657 916M657 916L658 917M660 917L662 916M662 915L663 914M663 911L662 910M657 909L656 910M670 905L668 907M668 915L669 916M669 916L670 917M673 917L674 916M674 916L675 915M675 910L674 909M669 909L668 910M684 917L685 916M685 916L686 915M686 915L687 914M687 905L686 904M681 905L680 906M680 909L681 911M681 911L682 912M685 912L686 911M696 917L697 916M697 916L698 915M698 915L699 914M699 914L700 911M700 906L699 905M699 905L698 904M693 905L692 906M692 909L693 911M693 911L695 912M697 912L698 911M699 911L700 909M704 921L706 919M706 919L707 917M707 917L708 914M708 912L707 909M707 909L706 906M706 906L704 904M240 892L242 893M245 893L246 892M247 888L246 887M246 887L241 886M241 886L240 885M240 882L241 881M241 881L242 880M245 880L247 881M264 884L258 893M274 892L273 893M270 893L269 892M269 885L270 884M273 884L274 885M274 885L275 886M275 887L269 888M296 890L297 892M297 892L299 893M301 893L302 892M309 892L310 893M313 893L314 892M314 889L313 888M310 888L309 887M309 886L310 885M310 885L311 884M313 884L314 885M325 892L324 893M321 893L320 892M320 892L319 891M319 886L320 885M320 885L321 884M324 884L325 885M325 887L319 888M331 887L332 885M332 885L333 884M980 916L978 917M976 917L975 916M975 916L974 915M974 915L973 914M973 911L974 909M975 909L976 908M978 908L980 909M1005 904L1003 906M1003 906L1002 907M1002 907L1001 908M1023 903L1012 920M1030 904L1029 906M1029 906L1028 907M1028 907L1027 908M269 821L270 823M270 824L264 825M246 806L247 805M246 801L241 800M241 800L240 799M240 795L241 794M241 794L242 793M245 793L247 794M269 798L270 800M270 801L264 802M280 798L281 800M281 801L275 802M286 804L287 806" stroke="#d251e6" stroke-width="1.0" stroke-opacity="0.85" fill="none"/>
<path d="M255 34h0M254 35h0M255 933h0M254 934h0M45 238h0M1161 238h0M434 881h0M434 892h0M446 885h0M442 892h0M454 892h0M461 892h0M461 885h0M465 885h0M489 882h0M488 883h0M531 885h0M569 885h0M606 882h0M606 890h0M600 890h0M600 882h0M266 916h0M261 916h0M260 915h0M260 906h0M277 909h0M329 906h0M329 915h0M328 916h0M344 904h0M396 916h0M411 909h0M442 921h0M441 919h0M440 917h0M440 909h0M441 906h0M447 910h0M453 916h0M448 916h0M470 916h0M471 915h0M472 914h0M466 905h0M484 914h0M498 916h0M537 908h0M537 905h0M543 905h0M543 908h0M538 910h0M537 911h0M537 915h0M538 916h0M542 916h0M543 915h0M543 911h0M542 910h0M550 910h0M550 916h0M602 916h0M649 909h0M645 916h0M657 905h0M657 916h0M669 916h0M674 916h0M685 916h0M686 915h0M697 916h0M698 915h0M699 914h0M699 905h0M706 919h0M707 917h0M707 909h0M706 906h0M246 887h0M241 886h0M241 881h0M274 885h0M310 885h0M320 892h0M320 885h0M975 916h0M974 915h0M1003 906h0M1002 907h0M1029 906h0M1028 907h0M241 800h0M241 794h0" stroke="#d251e6" stroke-width="1.3" stroke-opacity="0.4" fill="none"/>
<path d="M471.54 892.14h0M471.54 885.41h0M253.29 904.49h0M316.87 916.1h0M335.82 916.1h0M352.94 916.1h0M389.01 904.49h0M459.93 916.1h0M490.5 916.1h0M252.68 880.52h0M280.19 892.14h0M280.19 885.41h0M985.7 916.1h0M985.7 909.38h0M251.45 817.19h0M275.3 828.8h0M275.3 822.08h0M293.64 805.69h0M293.64 798.97h0" stroke="#d251e6" stroke-width="2.3" stroke-opacity="0.9" fill="none"/>
<path d="M976 893L972 887M969 893L969 880M969 880L974 880M974 880L975 881M975 881L976 881M976 881L976 882M976 882L976 884M976 884L976 885M976 885L975 886M975 886L974 887M974 887L969 887M987 892L985 893M985 893L983 893M983 893L982 892M982 892L981 891M981 891L981 886M981 886L982 885M982 885L983 884M983 884L985 884M985 884L987 885M987 885L987 886M987 886L987 887M987 887L981 888M991 884L994 893M994 893L998 884M1002.41 891.53L1003.03 892.14M1003.03 892.14L1002.41 892.75M1002.41 892.75L1001.8 892.14M1001.8 892.14L1002.41 891.53M1002.41 884.8L1003.03 885.41M1003.03 885.41L1002.41 886.03M1002.41 886.03L1001.8 885.41M1001.8 885.41L1002.41 884.8" stroke="#c650dc" stroke-width="3.2" fill="none" />
<path d="M243 845L252 845M245 862L248 845M256 862L257 851M258.07 845.04L258.88 845.86M258.88 845.86L258.07 846.67M258.07 846.67L257.25 845.86M257.25 845.86L258.07 845.04M263 851L270 851M266 845L264 860M264 860L265 861M265 861L267 862M267 862L268 862M276 862L275 861M275 861L274 860M274 860L276 845M290 861L288 862M288 862L285 862M285 862L283 861M283 861L282 860M282 860L283 853M283 853L284 852M284 852L286 851M286 851L289 851M289 851L291 852M291 852L291 853M291 853L291 855M291 855L283 856M297.71 860.53L298.52 861.35M298.52 861.35L297.71 862.16M297.71 862.16L296.89 861.35M296.89 861.35L297.71 860.53M298.83 851.57L299.64 852.38M299.64 852.38L298.83 853.2M298.83 853.2L298.01 852.38M298.01 852.38L298.83 851.57M329 861L328 861M328 861L325 862M325 862L324 862M324 862L321 861M321 861L320 860M320 860L319 858M319 858L319 855M319 855L319 852M319 852L320 849M320 849L321 847M321 847L323 846M323 846L326 845M326 845L327 845M327 845L330 846M330 846L331 847M338 862L337 861M337 861L336 861M336 861L336 859M336 859L336 854M336 854L337 852M337 852L338 852M338 852L340 851M340 851L342 851M342 851L344 852M344 852L344 852M344 852L345 854M345 854L344 859M344 859L343 861M343 861L343 861M343 861L341 862M341 862L338 862M354 862L352 861M352 861L352 860M352 860L354 845M363 862L361 861M361 861L361 861M361 861L360 859M360 859L361 854M361 854L362 852M362 852L363 852M363 852L364 851M364 851L367 851M367 851L368 852M368 852L369 852M369 852L370 854M370 854L369 859M369 859L368 861M368 861L367 861M367 861L365 862M365 862L363 862M376 862L377 851M377 854L378 852M378 852L379 852M379 852L381 851M381 851L382 851M399 862L402 845M402 845L408 845M408 845L410 846M410 846L410 847M410 847L411 848M411 848L411 851M411 851L410 852M410 852L409 853M409 853L407 854M407 854L401 854M417 862L418 851M418 854L419 852M419 852L420 852M420 852L421 851M421 851L423 851M434 861L432 862M432 862L429 862M429 862L427 861M427 861L427 860M427 860L428 853M428 853L429 852M429 852L430 851M430 851L434 851M434 851L435 852M435 852L436 853M436 853L435 855M435 855L427 856M442 851L444 862M444 862L450 851M455 862L456 851M456.96 845.04L457.78 845.86M457.78 845.86L456.96 846.67M456.96 846.67L456.15 845.86M456.15 845.86L456.96 845.04M470 861L468 862M468 862L465 862M465 862L463 861M463 861L463 860M463 860L463 853M463 853L464 852M464 852L466 851M466 851L469 851M469 851L471 852M471 852L472 853M472 853L471 855M471 855L463 856M478 851L479 862M479 862L484 854M484 854L486 862M486 862L491 851" stroke="#c650dc" stroke-width="4.0" fill="none" />
<path d="M330.45 248H353.55V250H330.45ZM352 248.45H354V488.55H352Z" fill="#33cee5" fill-opacity="0.56"/>
<path d="M374.45 270H456.55V272H374.45ZM374.45 509H462.55V511H374.45ZM417.45 313H456.55V315H417.45ZM417 313.45H419V379.55H417ZM586.45 291H619.55V293H586.45ZM618 291.45H620V379.55H618ZM618.45 291H657.55V293H618.45ZM417.45 378H619.55V380H417.45Z" fill="#00e850" fill-opacity="0.56"/>
<path d="M478 249L564.87 292L478 336Z" fill="#4c4e6c" stroke="#ff40b4" stroke-width="2"/>
<path d="M455.45 270H478.55V272H455.45ZM455.45 313H478.55V315H455.45ZM564.45 291H587.55V293H564.45Z" fill="#ff3eb4" fill-opacity="0.54"/>
<path d="M462.45 263H471.55V265H462.45ZM462.45 306H471.55V308H462.45ZM466 302.45H468V311.55H466ZM565 278H567V280H565ZM567 278H568V280H567ZM569 282H571V286H569ZM565 289H567V291H565ZM561 282H563V286H561ZM564 278H565V280H564ZM573 278.45H575V288H573ZM574.45 288H575.55V290H574.45ZM576 289H578V291H576ZM579 288H580V290H579ZM579 288H581V289H579ZM579 278.45H581V288H579ZM583.45 278H590.55V280H583.45ZM586 278.45H588V290.55H586Z" fill="#00e850" fill-opacity="0.56"/>
<path d="M568 279L569 280M569 280L570 282M570 286L569 288M569 288L568 289M568 289L567 290M565 290L564 289M564 289L563 288M563 288L562 286M562 282L563 280M563 280L564 279M574 288L575 289M575 289L576 290M578 290L579 289" stroke="#00e850" stroke-width="1.0" stroke-opacity="0.85" fill="none"/>
<path d="M569 280h0M569 288h0M568 289h0M564 289h0M563 288h0M563 280h0" stroke="#00e850" stroke-width="1.3" stroke-opacity="0.4" fill="none"/>
<path d="M463.45 282H470.55V284H463.45ZM466 272H468V283.55H466ZM463.45 274H465V276H463.45ZM463 316H465V317.55H463ZM464 315H465V317H464ZM465 315H468V317H465ZM468 315H469V317H468ZM469 317H471V318H469ZM469 318H471V319H469ZM469 319H471V321H469ZM463 326H470.55V328H463ZM571.45 293H579V295H571.45ZM575 297H577V299H575ZM577.45 298H578.55V300H577.45ZM578 300H580V303H578ZM577.45 303H578.55V305H577.45ZM574 304H577V306H574ZM571.45 303H573V305H571.45Z" fill="#ff3eb4" fill-opacity="0.54"/>
<path d="M467 272L466 274M466 274L465 275M469 316L470 317M470 321L463 327M579 294L575 298M577 298L578 299M578 299L579 300M579 303L578 304M578 304L577 305M574 305L573 304" stroke="#ff3eb4" stroke-width="1.0" stroke-opacity="0.85" fill="none"/>
<path d="M466 274h0" stroke="#ff3eb4" stroke-width="1.3" stroke-opacity="0.4" fill="none"/>
<path d="M462 405H592V407H462ZM591 406H593V445H591ZM462 444H592V446H462ZM461 406H463V445H461ZM481 420H483V431.55H481ZM482 419H486V421H482ZM486.45 420H487.55V422H486.45ZM487 422H489V424H487ZM486.45 424H487.55V426H486.45ZM481.45 425H486V427H481.45ZM493 430H498.55V432H493ZM492 419.45H494V431H492ZM500.45 427H506.55V429H500.45ZM510 419.45H512V431.55H510ZM515 420H517V431.55H515ZM521 419.45H523V431H521ZM533.45 419H540.55V421H533.45ZM536 419.45H538V431.55H536ZM543.45 424H547.55V426H543.45ZM544 430H549.55V432H544ZM543 420H545V431H543ZM544 419H549.55V421H544ZM561.45 419H569.55V421H561.45ZM565 419.45H567V431.55H565ZM480 265.45H482V274.55H480ZM484 268.45H486V274.55H484ZM484 269H486V270.55H484ZM485 268H486V270H485ZM486 268H487V270H486ZM487 268H488V270H487ZM487 269H489V270H487ZM487 270H489V274.55H487ZM491 268.45H493V277.55H491ZM491.45 268H493V270H491.45ZM493 268H494V270H493ZM494 268H495V270H494ZM495.45 269H496.55V271H495.45ZM495 270H497V273H495ZM495 273H497V274H495ZM495 273H496V275H495ZM494 273H495V275H494ZM493 273H494V275H493ZM491.45 273H493V275H491.45ZM502 268.45H504V274.55H502ZM498 268.45H500V273H498ZM500 273H501V275H500ZM501 273H502V275H501ZM502 273H503V275H502ZM502.45 273H503.55V275H502.45ZM505.45 268H509.55V270H505.45ZM506 265.45H508V273H506ZM506 273H508V274H506ZM507 273H508V275H507ZM508 273H509.55V275H508ZM480 309.45H482V318.55H480ZM484 311.45H486V318.55H484ZM484.45 312H485.55V314H484.45ZM486 311H487V313H486ZM487 313H489V314H487ZM487 314H489V318.55H487ZM491 311.45H493V321.55H491ZM493 311H494V313H493ZM495 312H496V314H495ZM495 313H497V314H495ZM495 314H497V316H495ZM495 316H497V317H495ZM495 316H496V318H495ZM493 317H494V319H493ZM502 311.45H504V318.55H502ZM498 311.45H500V317H498ZM499 316H500V318H499ZM501 317H502V319H501ZM502.45 316H503.55V318H502.45ZM505.45 311H509.55V313H505.45ZM506 309.45H508V317H506ZM506.45 316H507.55V318H506.45ZM508 317H509.55V319H508ZM528 287H529V289H528ZM529 287H530V289H529ZM530 289H532V291H530ZM530 291H532V293H530ZM530 293H532V295H530ZM529 295H530V297H529ZM528 295H529V297H528ZM527 295H528V297H527ZM525 293H527V295H525ZM525 291H527V293H525ZM525 289H527V291H525ZM527 287H528V289H527ZM537 290.45H539V296.55H537ZM534 290.45H536V295H534ZM534 295H536V296H534ZM535 295H536V297H535ZM536 295H537V297H536ZM537 295H538V297H537ZM537 294.45H539V296H537ZM540.45 290H544.55V292H540.45ZM541 287.45H543V295H541ZM542.45 295H543.55V297H542.45ZM543 295H544.55V297H543ZM546 290.45H548V299.55H546ZM546.45 290H548V292H546.45ZM548 290H549V292H548ZM549 290H550V292H549ZM549.45 290H550.55V292H549.45ZM550 292H552V295H550ZM550 294H551V296H550ZM549 295H551V296H549ZM549 295H550V297H549ZM548 295H549V297H548ZM546.45 295H548V297H546.45ZM557 290.45H559V296.55H557ZM553 290.45H555V295H553ZM554.45 295H555.55V297H554.45ZM555 295H557V297H555ZM556.45 295H557.55V297H556.45ZM560.45 290H564.55V292H560.45ZM561 287.45H563V295H561ZM561 295H563V296H561ZM562 295H563V297H562ZM563 295H564.55V297H563Z" fill="#33cee5" fill-opacity="0.56"/>
<path d="M486 420L487 421M487 421L488 422M488 424L487 425M487 425L486 426M500 431L503 420M503 420L507 431M516 420L522 431M553 420L560 431M553 431L560 420M495 269L496 270M499 273L500 274M485 313L486 312M487 312L488 313M492 313L493 312M494 312L495 313M495 317L494 318M493 318L492 317M500 317L501 318M502 318L503 317M507 317L508 318M530 288L531 289M531 295L530 296M527 296L526 295M526 289L527 288M542 295L543 296M550 291L551 292M554 295L555 296M557 296L558 295" stroke="#33cee5" stroke-width="1.0" stroke-opacity="0.85" fill="none"/>
<path d="M503 420h0" stroke="#33cee5" stroke-width="1.3" stroke-opacity="0.4" fill="none"/>
<path d="M530 229.45H532V239H530ZM531.45 239H532.55V241H531.45ZM533 240H535V242H533ZM536 239H537V241H536ZM536 239H538V240H536ZM536 229.45H538V239H536ZM541.45 240H548.55V242H541.45ZM544 230H546V241.55H544ZM541.45 232H543V234H541.45ZM533 246H535V248H533ZM537 251H539V255H537ZM535 257H536V259H535ZM533 257H535V259H533ZM532 257H533V259H532ZM530 255H532V257H530ZM530 251H532V255H530ZM530 249H532V251H530ZM542 247H544V258.55H542ZM543 246H547V248H543ZM547.45 247H548.55V249H547.45ZM548 249H550V251H548ZM547.45 251H548.55V253H547.45ZM542.45 252H547V254H542.45ZM552.45 254H558.55V256H552.45ZM565 246H567.55V248H565ZM563.45 247H564.55V249H563.45ZM561 252H563V256H561ZM562 257H564V258H562ZM563 257H564V259H563ZM564 257H566V259H564ZM566 257H567V259H566ZM567 256H569V257H567ZM567 254H569V256H567ZM567 252H569V254H567ZM567 251H568V253H567ZM564 250H566V252H564ZM562.45 251H563.55V253H562.45ZM575 246H576V248H575ZM577 247H578V249H577ZM577 248H579V249H577ZM578 251H580V254H578ZM577 256H579V257H577ZM576 257H577V259H576ZM575 257H576V259H575ZM574 257H575V259H574ZM573 257H575V258H573ZM572 254H574V256H572ZM572 251H574V254H572ZM572 249H574V251H572ZM573.45 247H574.55V249H573.45ZM587 250.45H589V258.55H587ZM583 254H590.55V256H583Z" fill="#87ebda" fill-opacity="0.56"/>
<path d="M531 239L532 240M532 240L533 241M535 241L536 240M545 230L544 231M544 231L543 233M535 247L536 248M536 248L537 249M537 249L538 251M538 255L537 257M537 257L536 258M532 258L531 257M531 249L532 248M532 248L533 247M547 247L548 248M548 248L549 249M549 251L548 252M548 252L547 253M552 258L555 247M555 247L559 258M565 247L564 248M564 248L563 250M563 250L562 252M562 256L563 257M567 258L568 257M567 252L566 251M564 251L563 252M563 252L562 254M576 247L577 248M578 249L579 251M579 254L578 256M578 257L577 258M574 257L573 256M573 249L574 248M574 248L575 247M585 247L583 255" stroke="#87ebda" stroke-width="1.0" stroke-opacity="0.85" fill="none"/>
<path d="M544 231h0M536 248h0M537 249h0M537 257h0M532 248h0M555 247h0M563 250h0" stroke="#87ebda" stroke-width="1.3" stroke-opacity="0.4" fill="none"/>
<path d="M495 222L505 232M505 222L495 232" stroke="#00f0ff" stroke-width="1.15" stroke-opacity="0.85" fill="none"/>
<path d="M353 249L375 271" stroke="#00f050" stroke-width="1.05" stroke-opacity="0.85" fill="none"/>
<circle cx="353" cy="249" r="2.55" fill="none" stroke="#00f050" stroke-width="1.1"/>
<circle cx="375" cy="271" r="2.55" fill="none" stroke="#00f050" stroke-width="1.1"/>
<path d="M353 488L375 510" stroke="#ffb450" stroke-width="1.05" stroke-opacity="0.85" fill="none"/>
<circle cx="353" cy="488" r="2.55" fill="none" stroke="#ffb450" stroke-width="1.1"/>
<circle cx="375" cy="510" r="2.55" fill="none" stroke="#ffb450" stroke-width="1.1"/>
<circle cx="619" cy="292" r="4.15" fill="#00f548"/>
<path d="M383 267H388.55V269H383ZM382 256.45H384V268H382ZM391.45 264H397.55V266H391.45ZM406.45 262H407.55V264H406.45ZM407 264H409V266H407ZM406 267H408V268H406ZM406 267H407V269H406ZM401 267H406V269H401ZM400 257H402V268H400ZM401 256H405V258H401ZM406 257H407V259H406ZM406 258H408V259H406ZM406 259H408V260H406ZM406 260H408V261H406ZM405 261H406V263H405ZM400.45 261H405V263H400.45ZM411.45 261H416.55V263H411.45ZM412 267H417.55V269H412ZM411 257H413V268H411ZM412 256H417.55V258H412ZM422 267H427.55V269H422ZM421 256.45H423V268H421ZM433 259H434V261H433ZM433 260H435V261H433ZM434 260H435V262H434ZM434 261H436V262H434ZM435 264H437V266H435ZM434.45 267H435.55V269H434.45ZM433.45 268H434.55V270H433.45ZM433 268H434V270H433ZM432 268H433V270H432ZM431 268H433V269H431ZM431 267H432V269H431ZM430 266H432V268H430ZM430 264H432V266H430ZM430 262H432V264H430ZM431.45 260H432.55V262H431.45Z" fill="#ecfa46" fill-opacity="0.45"/>
<path d="M391 268L394 257M394 257L398 268M405 262L407 263M407 263L408 264M408 266L407 267M405 257L406 258M407 261L406 262M435 262L436 264M436 266L435 268M435 268L434 269M431 262L432 261M432 261L433 260" stroke="#ecfa46" stroke-width="1.0" stroke-opacity="0.85" fill="none"/>
<path d="M394 257h0" stroke="#ecfa46" stroke-width="1.3" stroke-opacity="0.4" fill="none"/>
<path d="M383 506H388.55V508H383ZM382 495.45H384V507H382ZM391.45 503H397.55V505H391.45ZM406.45 501H407.55V503H406.45ZM407 503H409V505H407ZM406 506H408V507H406ZM406 506H407V508H406ZM401 506H406V508H401ZM400 496H402V507H400ZM401 495H405V497H401ZM406 496H407V498H406ZM406 497H408V498H406ZM406 498H408V499H406ZM406 499H408V500H406ZM405 500H406V502H405ZM400.45 500H405V502H400.45ZM411.45 500H416.55V502H411.45ZM412 506H417.55V508H412ZM411 496H413V507H411ZM412 495H417.55V497H412ZM422 506H427.55V508H422ZM421 495.45H423V507H421ZM430.45 507H436.55V509H430.45ZM432 499H434V508.55H432ZM431 501H433V502H431ZM430.45 501H432V503H430.45Z" fill="#ebf569" fill-opacity="0.54"/>
<path d="M391 507L394 496M394 496L398 507M405 501L407 502M407 502L408 503M408 505L407 506M405 496L406 497M407 500L406 501M433 499L432 501" stroke="#ebf569" stroke-width="1.0" stroke-opacity="0.85" fill="none"/>
<path d="M394 496h0" stroke="#ebf569" stroke-width="1.3" stroke-opacity="0.4" fill="none"/>
<path d="M215 240H325V242H215ZM215 256H325V258H215Z" fill="#ff69c3" fill-opacity="0.56"/>
<path d="M331 249L325 241M215 241L209 249M209 249L215 257M325 257L331 249" stroke="#ff69c3" stroke-width="1.0" stroke-opacity="0.85" fill="none"/>
<path d="M209 249h0" stroke="#ff69c3" stroke-width="1.3" stroke-opacity="0.4" fill="none"/>
<path d="M223 242H224.55V244H223ZM222 242H223V244H222ZM220 242H222V244H220ZM217 245H219V247H217ZM217 247H219V249H217ZM217 249H219V251H217ZM222 253H223V255H222ZM224 252H225V254H224ZM224 249H226V253H224ZM222.45 248H225V250H222.45ZM229 253H234.55V255H229ZM228 242.45H230V254H228ZM240 242H242V244H240ZM242 242H243V244H242ZM244 246H246V250H244ZM240 253H242V255H240ZM237 250H239V252H237ZM237 246H239V250H237ZM237 244H239V246H237ZM239 242H240V244H239ZM252.45 247H255V249H252.45ZM254 248H256V249H254ZM255 250H257V252H255ZM254.45 252H255.55V254H254.45ZM250 253H254V255H250ZM249 243H251V254H249ZM250 242H253V244H250ZM253 242H254V244H253ZM254 244H256V245H254ZM254 245H256V246H254ZM254 246H256V247H254ZM254 246H255V248H254ZM249.45 247H253V249H249.45ZM259.45 250H265.55V252H259.45ZM270 253H275.55V255H270ZM269 242.45H271V254H269ZM279 256H282.55V258H279ZM278 242H280V257H278ZM279 241H282.55V243H279ZM284.45 242H291V244H284.45ZM288 246H289V248H288ZM289 246H290V248H289ZM290 248H292V249H290ZM290 249H292V252H290ZM290 252H292V253H290ZM290 252H291V254H290ZM286 253H289V255H286ZM284.45 252H285.55V254H284.45ZM309 242H310V244H309ZM310 242H311V244H310ZM310 243H312V244H310ZM311 245H313V247H311ZM311 247H313V250H311ZM311 250H313V252H311ZM310.45 252H311.55V254H310.45ZM309 253H310V255H309ZM306.45 252H307.55V254H306.45ZM305 250H307V252H305ZM305 247H307V250H305ZM305 245H307V247H305ZM306 243H308V244H306ZM307 242H309V244H307ZM315.45 256H318V258H315.45ZM317 242H319V257H317ZM315.45 241H318V243H315.45Z" fill="#ff69c3" fill-opacity="0.56"/>
<path d="M220 243L219 244M219 244L218 245M218 251L219 252M219 252L220 253M220 253L222 254M223 254L224 253M243 243L244 244M244 244L245 246M245 250L244 252M244 252L243 253M243 253L242 254M240 254L239 253M239 253L238 252M238 244L239 243M255 249L256 250M256 252L255 253M255 253L254 254M254 243L255 244M254 247L253 248M259 254L262 243M262 243L266 254M291 243L288 247M290 247L291 248M290 253L289 254M286 254L285 253M311 244L312 245M312 252L311 253M311 253L310 254M309 254L307 253M307 253L306 252M306 245L307 244" stroke="#ff69c3" stroke-width="1.0" stroke-opacity="0.85" fill="none"/>
<path d="M219 244h0M219 252h0M220 253h0M244 244h0M244 252h0M243 253h0M239 253h0M262 243h0" stroke="#ff69c3" stroke-width="1.3" stroke-opacity="0.4" fill="none"/>
<path d="M296.09 253.15h0M301.26 253.15h0" stroke="#ff69c3" stroke-width="2.3" stroke-opacity="0.9" fill="none"/>
<path d="M663 286H668V288H663ZM667 287H669V298H667ZM663 297H668V299H663Z" fill="#d251e6" fill-opacity="0.5"/>
<path d="M657 292L663 287M663 298L657 292" stroke="#d251e6" stroke-width="1.0" stroke-opacity="0.85" fill="none"/>
<path d="M671 285.45H673V297.55H671ZM671.45 291H678.55V293H671.45ZM677 285.45H679V297.55H677ZM682 285.45H684V297.55H682ZM688.45 291H692.55V293H688.45ZM689 296H694.55V298H689ZM688 286H690V297H688ZM689 285H694.55V287H689ZM697 286H699V297.55H697ZM698 285H703V287H698ZM703.45 286H704.55V288H703.45ZM704 289H706V290H704ZM703 291H705V292H703ZM703 291H704V293H703ZM697.45 291H703V293H697.45ZM706.45 297H715.55V299H706.45ZM718 296H723.55V298H718ZM717 285.45H719V297H717ZM725.45 293H731.55V295H725.45ZM738.45 291H741V293H738.45ZM740 292H742V293H740ZM741 294H743V295H741ZM740 296H742V297H740ZM740 296H741V298H740ZM736 296H740V298H736ZM735 286H737V297H735ZM736 285H739V287H736ZM740 286H741V288H740ZM740 287H742V289H740ZM740 289H742V290H740ZM740 290H742V291H740ZM740 290H741V292H740ZM735.45 291H739V293H735.45ZM746.45 291H750.55V293H746.45ZM747 296H752.55V298H747ZM746 286H748V297H746ZM747 285H752.55V287H747ZM756 296H762.55V298H756ZM755 285.45H757V297H755Z" fill="#ebf569" fill-opacity="0.54"/>
<path d="M705 297L701 292M703 286L704 287M704 287L705 289M705 290L704 291M725 297L728 286M728 286L732 297M741 293L742 294M742 295L741 296M739 286L740 287M740 291L739 292" stroke="#ebf569" stroke-width="1.0" stroke-opacity="0.85" fill="none"/>
<path d="M728 286h0" stroke="#ebf569" stroke-width="1.3" stroke-opacity="0.4" fill="none"/>
<path d="M820 226H994V228H820ZM993 227H995V510H993ZM820 509H994V511H820ZM819 227H821V510H819Z" fill="#d251e6" fill-opacity="0.48"/>
<path d="M825 220H827V222H825ZM828 219H829V221H828ZM828 219H830V220H828ZM828 218H830V219H828ZM828 217H830V218H828ZM823.45 214H824.55V216H823.45ZM822 213H824V214H822ZM823 211H825V212H823ZM825 209H828V211H825ZM833 209.45H835V221.55H833ZM833.45 214H840.55V216H833.45ZM839 209.45H841V221.55H839ZM845.45 214H849.55V216H845.45ZM846 220H851.55V222H846ZM845 210H847V221H845ZM846 209H851.55V211H846ZM854.45 214H859.55V216H854.45ZM855 220H861.55V222H855ZM854 210H856V221H854ZM855 209H861.55V211H855ZM863.45 209H870.55V211H863.45ZM866 209.45H868V221.55H866ZM823.45 519H827.55V521H823.45ZM823 515H825V526.55H823ZM824 514H829.55V516H824ZM832 518.45H834V526.55H832ZM837 514.45H839V524H837ZM845 525H847V527H845ZM842 520H844V524H842ZM844 518H845V520H844ZM845 518H847V520H845ZM847 518H848V520H847ZM848 520H850V521H848ZM877 518.45H879V530.55H877ZM877.45 518H879V520H877.45ZM879 518H881V520H879ZM881 518H882V520H881ZM882 520H884V521H882ZM882 521H884V524H882ZM882 524H884V525H882ZM882 524H883V526H882ZM879 525H881V527H879ZM892 520H894V526.55H892ZM891 518H892V520H891ZM889 518H891V520H889ZM887.45 518H889V520H887.45ZM889 525H892V527H889ZM886 523H888V524H886ZM888 521H889V523H888ZM889 521H892V523H889ZM895.45 518H900.55V520H895.45ZM897 514.45H899V524H897ZM897 524H899V525H897ZM899 525H900.55V527H899ZM903 514.45H905V526.55H903ZM908 520H910V526.55H908ZM907 518H908V520H907ZM906 518H907V520H906ZM905 518H906V520H905ZM923.45 518H928.55V520H923.45ZM924 514.45H926V524H924ZM927 525H928.55V527H927ZM931 524H932V526H931ZM930 524H932V525H930ZM930 521H932V524H930ZM930 520H932V521H930ZM932 518H933V520H932ZM933 518H935V520H933ZM935 518H936V520H935ZM935 519H937V520H935ZM936 521H938V524H936ZM935.45 524H936.55V526H935.45ZM933 525H935V527H933ZM953 525H955V527H953ZM956.45 523H957.55V525H956.45ZM954 521H955V523H954ZM953 521H954V523H953ZM951 520H953V521H951ZM953 518H954V520H953ZM954 518H955V520H954ZM955 518H956.55V520H955ZM960 514.45H962V526.55H960ZM965 520H967V526.55H965ZM965 519H967V520H965ZM965 518H966V520H965ZM963 518H965V520H963ZM962 518H963V520H962ZM972 525H974V527H972ZM970 524H972V525H970ZM970 520H972V524H970ZM970 519H972V520H970ZM971 518H972V520H971ZM972 518H974V520H972ZM974 518H975V520H974ZM975 520H977V521H975ZM982 525H984V527H982ZM979 520H981V524H979ZM981 518H982V520H981ZM982 518H984V520H982ZM984 518H985V520H984ZM984 519H986V520H984ZM984 520H986V521H984ZM987.45 518H993.55V520H987.45ZM989 514.45H991V524H989ZM989 524H991V525H989ZM992 525H993.55V527H992ZM837 275H839V277H837ZM840 274H841V276H840ZM840 273H842V275H840ZM840 272H842V273H840ZM840 271H842V272H840ZM840 270H841V272H840ZM835 269H837V270H835ZM834 267H836V268H834ZM835 265H837V266H835ZM836 264H837V266H836ZM837 264H840V266H837ZM840 264H841.55V266H840ZM845 264.45H847V276.55H845ZM845.45 269H852.55V271H845.45ZM851 264.45H853V276.55H851ZM856.45 269H861.55V271H856.45ZM857 275H863.55V277H857ZM856 265H858V276H856ZM857 264H863.55V266H857ZM866.45 269H871.55V271H866.45ZM867 275H872.55V277H867ZM866 265H868V276H866ZM867 264H872.55V266H867ZM874.45 264H882.55V266H874.45ZM878 264.45H880V276.55H878ZM893 265H895V276.55H893ZM894 264H898V266H894ZM898 264H899V266H898ZM898 265H900V266H898ZM899 267H901V268H899ZM898 269H900V270H898ZM898 269H899V271H898ZM893.45 269H898V271H893.45ZM903 264.45H905V276.55H903ZM909 265H911V276.55H909ZM915 264.45H917V276H915Z" fill="#d251e6" fill-opacity="0.48"/>
<path d="M823 220L825 221M827 221L828 220M829 217L828 216M828 216L824 215M824 215L823 214M823 213L824 212M824 211L825 210M828 210L829 211M840 526L839 525M839 525L838 524M848 525L847 526M845 526L844 525M844 525L843 524M843 520L844 519M848 519L849 520M849 521L843 522M875 515L865 529M882 519L883 520M882 525L881 526M879 526L878 525M893 520L892 519M893 525L892 526M889 526L888 525M888 525L887 524M887 523L888 522M892 522L893 521M898 525L899 526M909 520L908 519M905 519L904 520M922 515L912 529M925 524L926 525M926 525L927 526M933 526L932 525M931 520L932 519M936 520L937 521M937 524L936 525M936 525L935 526M949 515L940 529M952 525L953 526M955 526L956 525M956 525L957 524M957 524L956 523M956 523L955 522M953 522L952 521M952 520L953 519M962 519L961 520M975 525L974 526M972 526L971 525M975 519L976 520M976 521L971 522M985 525L984 526M982 526L981 525M981 525L980 524M980 520L981 519M985 521L980 522M990 525L992 526M835 275L837 276M839 276L840 275M840 271L836 270M836 269L835 268M835 267L836 266M899 266L900 267M900 268L899 269M910 265L916 276" stroke="#d251e6" stroke-width="1.0" stroke-opacity="0.85" fill="none"/>
<path d="M828 216h0M839 525h0M844 525h0M888 525h0M926 525h0M956 525h0M956 523h0M981 525h0" stroke="#d251e6" stroke-width="1.3" stroke-opacity="0.4" fill="none"/>
<path d="M833.12 515.59h0M853.3 525.42h0M853.3 519.73h0" stroke="#d251e6" stroke-width="2.3" stroke-opacity="0.9" fill="none"/>
<path d="M819.45 264H826V266H819.45ZM819.45 275H826V277H819.45Z" fill="#d251e6" fill-opacity="0.48"/>
<path d="M826 265L831 270.65M831 270.65L826 276" stroke="#d251e6" stroke-width="1.0" stroke-opacity="0.85" fill="none"/>
<path d="M831 270.65h0" stroke="#d251e6" stroke-width="1.3" stroke-opacity="0.4" fill="none"/>
<path d="M818 267H823V269H818ZM822 268H824V273H822ZM818 272H823V274H818ZM817 268H819V273H817Z" fill="#d251e6" fill-opacity="0.48"/>
</svg>
</body></html>
